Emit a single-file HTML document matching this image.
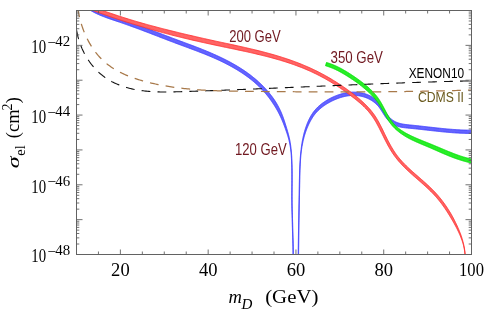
<!DOCTYPE html>
<html><head><meta charset="utf-8"><title>plot</title><style>html,body{margin:0;padding:0;background:#fff}svg{display:block;will-change:transform;-webkit-font-smoothing:antialiased}</style></head><body>
<svg width="485" height="311" viewBox="0 0 485 311">
<rect width="485" height="311" fill="#fff"/>
<defs><clipPath id="c"><rect x="76.5" y="10.5" width="395.0" height="244.0"/></clipPath></defs>
<g clip-path="url(#c)">
<path d="M80.77,3.31 L81.36,3.84 L81.96,4.37 L82.57,4.89 L83.19,5.40 L83.81,5.89 L84.44,6.38 L85.07,6.85 L85.70,7.32 L86.34,7.77 L86.99,8.22 L87.64,8.65 L88.29,9.08 L88.95,9.50 L89.61,9.90 L90.27,10.30 L90.94,10.70 L91.61,11.08 L92.29,11.45 L92.97,11.82 L93.65,12.18 L94.33,12.54 L95.02,12.88 L95.71,13.22 L96.40,13.55 L97.10,13.88 L97.80,14.20 L98.50,14.52 L99.20,14.83 L99.90,15.13 L100.61,15.43 L101.32,15.72 L102.03,16.01 L102.74,16.30 L103.45,16.58 L104.17,16.85 L104.89,17.12 L105.60,17.39 L106.32,17.66 L107.04,17.92 L107.76,18.18 L108.48,18.44 L109.20,18.69 L109.93,18.94 L110.65,19.19 L111.37,19.44 L112.10,19.69 L112.82,19.94 L113.55,20.18 L114.27,20.42 L114.99,20.67 L115.72,20.91 L116.44,21.15 L117.16,21.39 L117.89,21.63 L118.61,21.88 L119.33,22.12 L120.05,22.36 L120.77,22.61 L121.49,22.85 L122.21,23.10 L122.92,23.35 L123.64,23.60 L124.36,23.85 L125.08,24.10 L125.79,24.35 L126.51,24.60 L127.23,24.86 L127.94,25.11 L128.66,25.37 L129.38,25.62 L130.09,25.88 L130.81,26.14 L131.52,26.40 L132.24,26.66 L132.95,26.92 L133.67,27.18 L134.38,27.44 L135.09,27.70 L135.81,27.97 L136.52,28.23 L137.23,28.50 L137.95,28.76 L138.66,29.03 L139.37,29.29 L140.08,29.56 L140.80,29.83 L141.51,30.09 L142.22,30.36 L142.93,30.63 L143.64,30.90 L144.35,31.17 L145.07,31.44 L145.78,31.71 L146.49,31.98 L147.20,32.25 L147.91,32.52 L148.62,32.79 L149.33,33.06 L150.04,33.34 L150.75,33.61 L151.46,33.88 L152.17,34.16 L152.88,34.43 L153.59,34.70 L154.30,34.98 L155.01,35.25 L155.72,35.53 L156.43,35.80 L157.14,36.07 L157.84,36.35 L158.55,36.62 L159.26,36.90 L159.97,37.17 L160.68,37.44 L161.39,37.72 L162.10,37.99 L162.81,38.26 L163.52,38.54 L164.23,38.81 L164.94,39.08 L165.65,39.36 L166.36,39.63 L167.07,39.90 L167.78,40.17 L168.49,40.44 L169.19,40.72 L169.90,40.99 L170.61,41.26 L171.32,41.53 L172.03,41.80 L172.75,42.06 L173.46,42.33 L174.17,42.60 L174.88,42.87 L175.59,43.13 L176.30,43.40 L177.01,43.66 L177.72,43.93 L178.43,44.19 L179.14,44.46 L179.85,44.72 L180.56,44.98 L181.27,45.24 L181.98,45.51 L182.69,45.77 L183.40,46.03 L184.11,46.30 L184.82,46.56 L185.53,46.82 L186.24,47.08 L186.95,47.35 L187.66,47.61 L188.37,47.87 L189.08,48.14 L189.78,48.40 L190.49,48.67 L191.20,48.93 L191.91,49.20 L192.61,49.46 L193.32,49.73 L194.03,50.00 L194.73,50.27 L195.44,50.53 L196.15,50.80 L196.85,51.07 L197.56,51.33 L198.26,51.60 L198.97,51.87 L199.67,52.15 L200.38,52.42 L201.08,52.69 L201.78,52.97 L202.49,53.24 L203.19,53.52 L203.89,53.80 L204.59,54.08 L205.29,54.36 L205.99,54.64 L206.69,54.93 L207.39,55.22 L208.09,55.50 L208.79,55.79 L209.49,56.08 L210.18,56.38 L210.88,56.67 L211.57,56.97 L212.27,57.27 L212.97,57.57 L213.66,57.87 L214.35,58.17 L215.04,58.48 L215.74,58.79 L216.43,59.10 L217.12,59.42 L217.81,59.73 L218.50,60.05 L219.18,60.37 L219.87,60.69 L220.56,61.02 L221.24,61.35 L221.92,61.68 L222.61,62.01 L223.29,62.34 L223.97,62.68 L224.65,63.02 L225.32,63.36 L226.00,63.70 L226.68,64.05 L227.35,64.40 L228.02,64.75 L228.69,65.11 L229.36,65.46 L230.03,65.82 L230.69,66.19 L231.36,66.55 L232.02,66.92 L232.68,67.29 L233.34,67.66 L233.99,68.04 L234.65,68.42 L235.30,68.80 L235.95,69.19 L236.60,69.58 L237.24,69.97 L237.89,70.36 L238.53,70.76 L239.17,71.16 L239.81,71.56 L240.44,71.97 L241.08,72.37 L241.71,72.79 L242.33,73.20 L242.96,73.62 L243.58,74.04 L244.20,74.47 L244.82,74.89 L245.43,75.33 L246.05,75.76 L246.65,76.20 L247.26,76.64 L247.86,77.08 L248.47,77.53 L249.06,77.98 L249.66,78.44 L250.25,78.90 L250.84,79.36 L251.42,79.83 L252.01,80.29 L252.59,80.77 L253.16,81.24 L253.73,81.73 L254.30,82.21 L254.86,82.70 L255.43,83.19 L255.98,83.69 L256.54,84.19 L257.09,84.69 L257.63,85.20 L258.18,85.71 L258.72,86.23 L259.25,86.74 L259.78,87.27 L260.31,87.79 L260.83,88.32 L261.36,88.85 L261.87,89.39 L262.38,89.93 L262.89,90.47 L263.40,91.02 L263.89,91.57 L264.39,92.12 L264.88,92.68 L265.37,93.24 L265.85,93.81 L266.33,94.38 L266.80,94.95 L267.27,95.52 L267.74,96.10 L268.20,96.69 L268.65,97.27 L269.10,97.86 L269.55,98.45 L269.99,99.05 L270.43,99.65 L270.86,100.26 L271.29,100.86 L271.71,101.47 L272.12,102.09 L272.54,102.71 L272.94,103.33 L273.35,103.95 L273.77,104.56 L274.18,105.19 L274.58,105.81 L274.98,106.44 L275.37,107.07 L275.76,107.71 L276.14,108.35 L276.52,109.00 L276.89,109.64 L277.26,110.30 L277.62,110.95 L277.97,111.61 L278.32,112.27 L278.67,112.94 L279.01,113.61 L279.35,114.28 L279.68,114.96 L280.01,115.64 L280.34,116.32 L280.66,117.01 L280.98,117.70 L281.29,118.39 L281.60,119.09 L281.90,119.79 L282.20,120.49 L282.49,121.19 L282.79,121.90 L283.07,122.61 L283.36,123.32 L283.63,124.03 L283.91,124.75 L284.18,125.46 L284.44,126.18 L284.71,126.90 L284.97,127.62 L285.23,128.34 L285.49,129.06 L285.74,129.78 L285.99,130.50 L286.25,131.22 L286.49,131.94 L286.74,132.65 L286.98,133.37 L287.22,134.09 L287.45,134.81 L287.67,135.53 L287.90,136.25 L288.11,136.97 L288.32,137.69 L288.52,138.42 L288.71,139.14 L288.89,139.87 L289.06,140.60 L289.23,141.33 L289.40,142.06 L289.55,142.79 L289.70,143.52 L289.84,144.26 L289.98,145.00 L290.11,145.74 L290.24,146.47 L290.36,147.22 L290.47,147.96 L290.58,148.70 L290.69,149.44 L290.78,150.19 L290.86,150.94 L290.94,151.69 L291.01,152.43 L291.08,153.18 L291.14,153.94 L291.20,154.69 L291.25,155.44 L291.30,156.19 L291.35,156.94 L291.39,157.70 L291.43,158.45 L291.47,159.21 L291.51,159.96 L291.54,160.72 L291.57,161.47 L291.60,162.23 L291.62,162.99 L291.65,163.75 L291.67,164.50 L291.69,165.26 L291.71,166.02 L291.72,166.78 L291.74,167.54 L291.75,168.30 L291.76,169.06 L291.77,169.82 L291.78,170.58 L291.79,171.34 L291.80,172.10 L291.80,172.86 L291.81,173.62 L291.81,174.38 L291.81,175.14 L291.81,175.90 L291.81,176.66 L291.81,177.42 L291.81,178.18 L291.81,178.95 L291.81,179.71 L291.81,180.47 L291.80,181.23 L291.80,181.99 L291.80,182.76 L291.79,183.52 L291.79,184.28 L291.78,185.04 L291.78,185.81 L291.77,186.57 L291.77,187.33 L291.76,188.09 L291.76,188.85 L291.75,189.62 L291.75,190.38 L291.75,191.14 L291.74,191.90 L291.74,192.67 L291.74,193.43 L291.73,194.19 L291.73,194.95 L291.73,195.72 L291.73,196.48 L291.73,197.24 L291.74,198.00 L291.74,198.76 L291.74,199.52 L291.75,200.29 L291.75,201.05 L291.76,201.81 L291.77,202.57 L291.77,203.33 L291.78,204.09 L291.79,204.85 L291.81,205.61 L291.82,206.37 L291.83,207.13 L291.84,207.89 L291.86,208.65 L291.87,209.41 L291.89,210.17 L291.91,210.93 L291.93,211.69 L291.94,212.45 L291.96,213.21 L291.98,213.97 L292.00,214.72 L292.02,215.48 L292.04,216.24 L292.06,217.00 L292.08,217.76 L292.10,218.52 L292.13,219.28 L292.15,220.04 L292.17,220.79 L292.19,221.55 L292.22,222.31 L292.24,223.07 L292.26,223.83 L292.29,224.59 L292.31,225.34 L292.33,226.10 L292.36,226.86 L292.38,227.62 L292.41,228.38 L292.43,229.14 L292.45,229.89 L292.48,230.65 L292.50,231.41 L292.52,232.17 L292.54,232.93 L292.57,233.69 L292.59,234.44 L292.61,235.20 L292.63,235.96 L292.65,236.72 L292.67,237.48 L292.69,238.24 L292.71,239.00 L292.73,239.76 L292.75,240.51 L292.77,241.27 L292.79,242.03 L292.80,242.79 L292.82,243.55 L292.83,244.31 L292.85,245.07 L292.86,245.83 L292.88,246.59 L292.89,247.35 L292.90,248.11 L292.91,248.87 L292.92,249.63 L292.93,250.39 L292.94,251.15 L292.94,251.91 L292.95,252.67 L292.95,253.44 L292.96,254.20 L292.96,254.96 L292.96,255.72 L292.96,256.48 L292.96,257.24 L292.96,258.01 L293.36,258.01 L293.36,257.24 L293.36,256.48 L293.36,255.72 L293.36,254.96 L293.36,254.20 L293.35,253.43 L293.35,252.67 L293.34,251.91 L293.34,251.15 L293.33,250.39 L293.32,249.63 L293.31,248.87 L293.30,248.10 L293.29,247.34 L293.28,246.58 L293.26,245.82 L293.25,245.06 L293.23,244.30 L293.22,243.54 L293.20,242.78 L293.19,242.02 L293.17,241.26 L293.15,240.51 L293.13,239.75 L293.11,238.99 L293.09,238.23 L293.07,237.47 L293.05,236.71 L293.03,235.95 L293.01,235.19 L292.99,234.43 L292.97,233.67 L292.94,232.92 L292.92,232.16 L292.90,231.40 L292.88,230.64 L292.85,229.88 L292.83,229.12 L292.81,228.36 L292.78,227.61 L292.76,226.85 L292.73,226.09 L292.71,225.33 L292.69,224.57 L292.66,223.81 L292.64,223.06 L292.62,222.30 L292.59,221.54 L292.57,220.78 L292.55,220.02 L292.53,219.27 L292.50,218.51 L292.48,217.75 L292.46,216.99 L292.44,216.23 L292.42,215.47 L292.40,214.71 L292.38,213.96 L292.36,213.20 L292.34,212.44 L292.32,211.68 L292.31,210.92 L292.29,210.16 L292.27,209.40 L292.26,208.64 L292.24,207.88 L292.23,207.12 L292.22,206.36 L292.21,205.60 L292.19,204.84 L292.18,204.08 L292.17,203.32 L292.17,202.56 L292.16,201.80 L292.15,201.04 L292.15,200.28 L292.14,199.52 L292.14,198.76 L292.14,198.00 L292.13,197.24 L292.13,196.48 L292.13,195.72 L292.13,194.95 L292.13,194.19 L292.14,193.43 L292.14,192.67 L292.14,191.91 L292.15,191.14 L292.15,190.38 L292.15,189.62 L292.16,188.86 L292.16,188.09 L292.17,187.33 L292.17,186.57 L292.18,185.81 L292.18,185.05 L292.19,184.28 L292.19,183.52 L292.20,182.76 L292.20,182.00 L292.20,181.23 L292.21,180.47 L292.21,179.71 L292.21,178.95 L292.21,178.18 L292.21,177.42 L292.21,176.66 L292.21,175.90 L292.21,175.14 L292.21,174.38 L292.21,173.61 L292.20,172.85 L292.20,172.09 L292.19,171.33 L292.18,170.57 L292.17,169.81 L292.16,169.05 L292.15,168.29 L292.14,167.53 L292.12,166.77 L292.11,166.01 L292.09,165.25 L292.07,164.49 L292.05,163.73 L292.02,162.98 L292.00,162.22 L291.97,161.46 L291.94,160.70 L291.91,159.94 L291.87,159.19 L291.83,158.43 L291.79,157.68 L291.75,156.92 L291.70,156.16 L291.65,155.41 L291.60,154.66 L291.54,153.90 L291.47,153.15 L291.41,152.40 L291.34,151.65 L291.26,150.90 L291.18,150.15 L291.11,149.39 L291.03,148.64 L290.95,147.89 L290.87,147.15 L290.78,146.40 L290.68,145.65 L290.58,144.90 L290.47,144.15 L290.36,143.41 L290.23,142.66 L290.11,141.92 L289.97,141.17 L289.83,140.43 L289.68,139.69 L289.53,138.95 L289.37,138.21 L289.20,137.47 L289.02,136.73 L288.84,135.99 L288.65,135.25 L288.46,134.51 L288.26,133.78 L288.06,133.04 L287.85,132.31 L287.64,131.57 L287.43,130.84 L287.21,130.11 L287.00,129.37 L286.78,128.64 L286.56,127.90 L286.34,127.16 L286.11,126.43 L285.89,125.69 L285.66,124.96 L285.42,124.22 L285.19,123.48 L284.95,122.75 L284.71,122.01 L284.48,121.28 L284.23,120.54 L283.99,119.81 L283.74,119.08 L283.48,118.34 L283.22,117.61 L282.96,116.89 L282.69,116.16 L282.41,115.44 L282.13,114.71 L281.84,114.00 L281.55,113.28 L281.25,112.56 L280.94,111.85 L280.63,111.15 L280.30,110.45 L279.97,109.75 L279.63,109.05 L279.29,108.36 L278.94,107.67 L278.59,106.99 L278.23,106.31 L277.86,105.63 L277.49,104.96 L277.11,104.29 L276.73,103.62 L276.34,102.95 L275.95,102.29 L275.54,101.64 L275.12,101.00 L274.70,100.36 L274.27,99.72 L273.83,99.09 L273.39,98.46 L272.94,97.84 L272.49,97.22 L272.03,96.60 L271.57,95.99 L271.11,95.38 L270.64,94.77 L270.16,94.17 L269.68,93.57 L269.20,92.98 L268.71,92.39 L268.22,91.80 L267.72,91.22 L267.22,90.64 L266.71,90.07 L266.20,89.50 L265.68,88.93 L265.16,88.36 L264.64,87.80 L264.11,87.25 L263.58,86.70 L263.05,86.15 L262.51,85.60 L261.96,85.06 L261.41,84.52 L260.86,83.99 L260.31,83.46 L259.75,82.94 L259.19,82.41 L258.62,81.90 L258.05,81.38 L257.48,80.87 L256.90,80.36 L256.32,79.86 L255.74,79.36 L255.15,78.87 L254.57,78.37 L253.97,77.88 L253.38,77.40 L252.78,76.92 L252.18,76.44 L251.58,75.96 L250.97,75.49 L250.36,75.03 L249.75,74.56 L249.13,74.10 L248.51,73.65 L247.89,73.19 L247.27,72.75 L246.64,72.30 L246.01,71.86 L245.38,71.42 L244.75,70.98 L244.11,70.55 L243.47,70.12 L242.83,69.70 L242.18,69.27 L241.54,68.86 L240.89,68.44 L240.24,68.03 L239.59,67.62 L238.93,67.21 L238.27,66.81 L237.62,66.41 L236.95,66.01 L236.29,65.62 L235.63,65.23 L234.96,64.84 L234.29,64.45 L233.62,64.07 L232.95,63.69 L232.28,63.32 L231.60,62.94 L230.92,62.57 L230.25,62.20 L229.57,61.84 L228.89,61.48 L228.20,61.12 L227.52,60.76 L226.83,60.40 L226.15,60.05 L225.46,59.70 L224.77,59.36 L224.08,59.01 L223.39,58.67 L222.70,58.33 L222.01,58.00 L221.31,57.66 L220.62,57.33 L219.92,57.00 L219.23,56.67 L218.53,56.35 L217.83,56.02 L217.14,55.70 L216.44,55.39 L215.74,55.07 L215.04,54.76 L214.34,54.44 L213.64,54.13 L212.94,53.82 L212.24,53.52 L211.53,53.21 L210.83,52.91 L210.13,52.61 L209.43,52.31 L208.72,52.01 L208.02,51.72 L207.32,51.42 L206.61,51.13 L205.91,50.84 L205.20,50.55 L204.50,50.26 L203.79,49.98 L203.08,49.69 L202.38,49.41 L201.67,49.13 L200.97,48.84 L200.26,48.56 L199.55,48.29 L198.84,48.01 L198.14,47.73 L197.43,47.45 L196.72,47.18 L196.01,46.91 L195.30,46.63 L194.59,46.37 L193.88,46.10 L193.17,45.83 L192.46,45.56 L191.75,45.30 L191.04,45.03 L190.33,44.77 L189.62,44.50 L188.91,44.24 L188.20,43.97 L187.49,43.71 L186.78,43.45 L186.07,43.18 L185.36,42.92 L184.65,42.66 L183.94,42.39 L183.23,42.13 L182.52,41.87 L181.81,41.61 L181.10,41.34 L180.39,41.08 L179.68,40.82 L178.97,40.55 L178.26,40.29 L177.56,40.03 L176.85,39.76 L176.14,39.50 L175.43,39.23 L174.72,38.97 L174.01,38.70 L173.30,38.44 L172.59,38.17 L171.88,37.90 L171.17,37.64 L170.47,37.37 L169.76,37.10 L169.05,36.83 L168.34,36.56 L167.63,36.30 L166.92,36.03 L166.21,35.76 L165.50,35.49 L164.79,35.22 L164.08,34.95 L163.37,34.68 L162.66,34.41 L161.95,34.13 L161.24,33.86 L160.53,33.59 L159.82,33.32 L159.11,33.05 L158.40,32.78 L157.69,32.51 L156.98,32.23 L156.27,31.96 L155.56,31.69 L154.85,31.42 L154.14,31.15 L153.43,30.88 L152.72,30.61 L152.00,30.34 L151.29,30.06 L150.58,29.79 L149.87,29.52 L149.16,29.25 L148.44,28.98 L147.73,28.71 L147.02,28.44 L146.31,28.17 L145.59,27.89 L144.88,27.63 L144.17,27.36 L143.45,27.09 L142.74,26.82 L142.03,26.55 L141.31,26.28 L140.60,26.01 L139.88,25.75 L139.17,25.48 L138.45,25.21 L137.74,24.95 L137.02,24.68 L136.30,24.42 L135.59,24.16 L134.87,23.89 L134.15,23.63 L133.43,23.37 L132.72,23.11 L132.00,22.85 L131.28,22.59 L130.56,22.33 L129.84,22.07 L129.12,21.82 L128.40,21.56 L127.68,21.30 L126.96,21.05 L126.24,20.80 L125.51,20.54 L124.79,20.29 L124.07,20.04 L123.35,19.79 L122.62,19.54 L121.90,19.30 L121.17,19.05 L120.45,18.80 L119.72,18.56 L119.00,18.32 L118.27,18.07 L117.55,17.83 L116.83,17.59 L116.11,17.35 L115.38,17.10 L114.66,16.86 L113.94,16.62 L113.22,16.38 L112.51,16.13 L111.79,15.89 L111.08,15.64 L110.36,15.39 L109.65,15.14 L108.94,14.89 L108.23,14.63 L107.53,14.37 L106.82,14.11 L106.12,13.85 L105.42,13.58 L104.73,13.32 L104.03,13.04 L103.34,12.77 L102.65,12.48 L101.96,12.20 L101.28,11.91 L100.60,11.62 L99.92,11.32 L99.24,11.02 L98.57,10.71 L97.91,10.39 L97.24,10.07 L96.58,9.75 L95.92,9.42 L95.27,9.08 L94.62,8.74 L93.97,8.39 L93.33,8.03 L92.69,7.67 L92.06,7.29 L91.43,6.92 L90.81,6.53 L90.19,6.14 L89.57,5.73 L88.96,5.32 L88.35,4.90 L87.75,4.48 L87.15,4.04 L86.56,3.60 L85.97,3.14 L85.39,2.68 L84.82,2.20 L84.24,1.72 L83.68,1.22 L83.11,0.71Z" fill="#6464ff" stroke="#4040ff" stroke-width="0.9" stroke-linejoin="round"/>
<path d="M298.53,258.02 L298.54,257.36 L298.55,256.70 L298.56,256.04 L298.57,255.38 L298.58,254.72 L298.59,254.06 L298.60,253.40 L298.61,252.74 L298.62,252.08 L298.62,251.42 L298.63,250.76 L298.64,250.10 L298.65,249.44 L298.66,248.78 L298.67,248.12 L298.68,247.46 L298.69,246.80 L298.70,246.14 L298.71,245.48 L298.71,244.83 L298.72,244.17 L298.73,243.51 L298.74,242.85 L298.75,242.19 L298.76,241.54 L298.77,240.88 L298.78,240.22 L298.79,239.56 L298.80,238.90 L298.81,238.25 L298.81,237.59 L298.82,236.93 L298.83,236.27 L298.84,235.62 L298.85,234.96 L298.86,234.30 L298.87,233.65 L298.88,232.99 L298.89,232.33 L298.90,231.68 L298.91,231.02 L298.92,230.36 L298.93,229.71 L298.94,229.05 L298.94,228.39 L298.95,227.74 L298.96,227.08 L298.97,226.42 L298.98,225.77 L298.99,225.11 L299.00,224.46 L299.01,223.80 L299.02,223.14 L299.03,222.49 L299.04,221.83 L299.05,221.18 L299.06,220.52 L299.07,219.86 L299.08,219.21 L299.09,218.55 L299.10,217.90 L299.11,217.24 L299.12,216.58 L299.13,215.93 L299.14,215.27 L299.15,214.62 L299.16,213.96 L299.17,213.30 L299.18,212.65 L299.19,211.99 L299.20,211.34 L299.22,210.68 L299.23,210.02 L299.24,209.37 L299.25,208.71 L299.26,208.06 L299.27,207.40 L299.28,206.74 L299.29,206.09 L299.30,205.43 L299.31,204.78 L299.33,204.12 L299.34,203.46 L299.35,202.81 L299.36,202.15 L299.37,201.49 L299.38,200.84 L299.39,200.18 L299.41,199.52 L299.42,198.87 L299.43,198.21 L299.44,197.55 L299.45,196.90 L299.47,196.24 L299.48,195.58 L299.49,194.93 L299.50,194.27 L299.52,193.61 L299.53,192.96 L299.54,192.30 L299.55,191.64 L299.57,190.98 L299.58,190.33 L299.59,189.67 L299.61,189.01 L299.62,188.35 L299.63,187.69 L299.65,187.04 L299.66,186.38 L299.67,185.72 L299.69,185.06 L299.70,184.40 L299.71,183.74 L299.73,183.09 L299.74,182.43 L299.76,181.77 L299.77,181.11 L299.79,180.45 L299.80,179.79 L299.81,179.13 L299.83,178.47 L299.84,177.81 L299.86,177.15 L299.87,176.49 L299.89,175.83 L299.90,175.17 L299.92,174.51 L299.94,173.85 L299.95,173.19 L299.97,172.53 L299.99,171.87 L300.01,171.21 L300.03,170.55 L300.05,169.89 L300.07,169.23 L300.10,168.57 L300.12,167.91 L300.14,167.25 L300.17,166.59 L300.20,165.93 L300.23,165.28 L300.26,164.62 L300.29,163.96 L300.32,163.30 L300.36,162.64 L300.40,161.98 L300.43,161.33 L300.47,160.67 L300.52,160.01 L300.56,159.36 L300.61,158.70 L300.66,158.05 L300.71,157.39 L300.76,156.74 L300.82,156.08 L300.87,155.43 L300.93,154.77 L301.00,154.12 L301.06,153.47 L301.13,152.82 L301.20,152.17 L301.27,151.51 L301.35,150.86 L301.43,150.21 L301.52,149.57 L301.62,148.92 L301.72,148.27 L301.82,147.63 L301.93,146.98 L302.04,146.34 L302.16,145.70 L302.27,145.06 L302.40,144.42 L302.52,143.78 L302.65,143.14 L302.78,142.50 L302.92,141.86 L303.06,141.23 L303.20,140.59 L303.35,139.96 L303.50,139.33 L303.66,138.69 L303.82,138.06 L303.98,137.43 L304.16,136.81 L304.33,136.18 L304.52,135.56 L304.70,134.93 L304.89,134.31 L305.09,133.69 L305.29,133.07 L305.50,132.45 L305.71,131.84 L305.92,131.22 L306.14,130.61 L306.37,129.99 L306.60,129.38 L306.83,128.77 L307.07,128.17 L307.32,127.56 L307.57,126.95 L307.83,126.35 L308.09,125.75 L308.36,125.15 L308.64,124.55 L308.92,123.96 L309.21,123.37 L309.50,122.78 L309.80,122.20 L310.11,121.62 L310.42,121.04 L310.73,120.46 L311.05,119.89 L311.38,119.33 L311.71,118.77 L312.05,118.22 L312.39,117.67 L312.75,117.13 L313.10,116.60 L313.47,116.07 L313.84,115.55 L314.22,115.04 L314.60,114.54 L314.99,114.04 L315.39,113.56 L315.79,113.08 L316.21,112.61 L316.62,112.15 L317.05,111.69 L317.48,111.24 L317.92,110.80 L318.37,110.37 L318.82,109.94 L319.28,109.52 L319.74,109.11 L320.21,108.70 L320.68,108.29 L321.16,107.89 L321.64,107.50 L322.14,107.11 L322.63,106.73 L323.14,106.35 L323.65,105.98 L324.16,105.62 L324.68,105.26 L325.21,104.90 L325.74,104.55 L326.28,104.21 L326.83,103.87 L327.38,103.54 L327.93,103.21 L328.49,102.89 L329.06,102.57 L329.63,102.26 L330.20,101.95 L330.78,101.64 L331.36,101.34 L331.95,101.05 L332.54,100.77 L333.13,100.48 L333.72,100.20 L334.32,99.93 L334.93,99.67 L335.53,99.41 L336.14,99.16 L336.75,98.91 L337.37,98.68 L337.98,98.45 L338.60,98.22 L339.23,98.01 L339.85,97.80 L340.48,97.60 L341.10,97.41 L341.73,97.23 L342.36,97.05 L342.99,96.89 L343.62,96.73 L344.26,96.57 L344.89,96.43 L345.53,96.30 L346.16,96.17 L346.79,96.06 L347.43,95.95 L348.07,95.85 L348.70,95.76 L349.34,95.69 L349.97,95.62 L350.60,95.56 L351.24,95.52 L351.87,95.48 L352.50,95.45 L353.13,95.44 L353.76,95.43 L354.39,95.44 L355.01,95.46 L355.64,95.49 L356.26,95.53 L356.88,95.59 L357.50,95.65 L358.11,95.72 L358.73,95.81 L359.34,95.90 L359.95,96.01 L360.55,96.13 L361.15,96.25 L361.75,96.39 L362.35,96.54 L362.94,96.70 L363.52,96.87 L364.11,97.05 L364.69,97.25 L365.26,97.45 L365.83,97.66 L366.40,97.88 L366.96,98.11 L367.51,98.35 L368.07,98.60 L368.62,98.86 L369.16,99.12 L369.70,99.40 L370.23,99.69 L370.76,99.99 L371.28,100.30 L371.79,100.62 L372.30,100.95 L372.80,101.29 L373.30,101.65 L373.79,102.01 L374.27,102.38 L374.75,102.77 L375.22,103.16 L375.68,103.57 L376.14,103.98 L376.58,104.41 L377.02,104.85 L377.45,105.30 L377.87,105.76 L378.29,106.23 L378.69,106.72 L379.09,107.21 L379.47,107.73 L379.85,108.25 L380.22,108.79 L380.59,109.33 L380.96,109.89 L381.32,110.45 L381.68,111.02 L382.04,111.59 L382.40,112.17 L382.77,112.74 L383.13,113.32 L383.48,113.91 L383.85,114.49 L384.21,115.07 L384.59,115.65 L384.97,116.23 L385.36,116.79 L385.76,117.36 L386.17,117.91 L386.59,118.45 L387.02,118.98 L387.47,119.51 L387.92,120.02 L388.38,120.52 L388.86,121.01 L389.35,121.48 L389.85,121.93 L390.37,122.37 L390.90,122.79 L391.44,123.19 L391.99,123.58 L392.56,123.94 L393.14,124.29 L393.73,124.63 L394.33,124.94 L394.94,125.24 L395.56,125.53 L396.19,125.79 L396.82,126.04 L397.47,126.26 L398.13,126.47 L398.79,126.66 L399.46,126.83 L400.13,126.99 L400.80,127.13 L401.48,127.27 L402.16,127.39 L402.84,127.50 L403.52,127.60 L404.21,127.70 L404.89,127.78 L405.58,127.86 L406.26,127.93 L406.94,128.00 L407.62,128.07 L408.30,128.13 L408.98,128.20 L409.66,128.26 L410.33,128.32 L411.00,128.39 L411.67,128.45 L412.33,128.52 L413.00,128.59 L413.66,128.66 L414.33,128.73 L414.99,128.80 L415.65,128.87 L416.31,128.94 L416.97,129.01 L417.63,129.08 L418.29,129.15 L418.94,129.23 L419.60,129.30 L420.25,129.37 L420.91,129.44 L421.56,129.52 L422.21,129.59 L422.87,129.66 L423.52,129.74 L424.17,129.81 L424.82,129.88 L425.47,129.96 L426.12,130.03 L426.77,130.10 L427.42,130.18 L428.07,130.25 L428.71,130.32 L429.36,130.40 L430.01,130.47 L430.66,130.54 L431.30,130.62 L431.95,130.69 L432.60,130.76 L433.25,130.83 L433.90,130.90 L434.54,130.98 L435.19,131.05 L435.84,131.12 L436.49,131.19 L437.14,131.26 L437.79,131.33 L438.43,131.40 L439.08,131.46 L439.73,131.53 L440.39,131.60 L441.04,131.67 L441.69,131.73 L442.34,131.80 L442.99,131.86 L443.65,131.93 L444.30,131.99 L444.96,132.05 L445.61,132.11 L446.27,132.17 L446.92,132.23 L447.58,132.29 L448.24,132.35 L448.89,132.41 L449.55,132.46 L450.21,132.52 L450.87,132.57 L451.53,132.62 L452.19,132.68 L452.85,132.73 L453.51,132.77 L454.17,132.82 L454.83,132.87 L455.49,132.91 L456.15,132.96 L456.81,133.00 L457.47,133.04 L458.14,133.08 L458.80,133.11 L459.46,133.15 L460.12,133.18 L460.79,133.21 L461.45,133.24 L462.11,133.27 L462.78,133.30 L463.44,133.32 L464.10,133.34 L464.77,133.37 L465.43,133.38 L466.10,133.40 L466.76,133.42 L467.42,133.43 L468.09,133.44 L468.75,133.45 L469.42,133.45 L470.08,133.46 L470.74,133.46 L471.41,133.46 L472.07,133.45 L472.73,133.45 L473.40,133.44 L474.06,133.43 L474.72,133.42 L475.39,133.40 L476.05,133.38 L475.96,130.08 L475.30,130.10 L474.65,130.12 L474.00,130.13 L473.35,130.14 L472.70,130.15 L472.05,130.15 L471.40,130.16 L470.74,130.16 L470.09,130.16 L469.44,130.15 L468.79,130.15 L468.13,130.14 L467.48,130.13 L466.83,130.12 L466.17,130.10 L465.52,130.09 L464.87,130.07 L464.21,130.05 L463.56,130.02 L462.90,130.00 L462.25,129.97 L461.60,129.95 L460.94,129.92 L460.29,129.88 L459.63,129.85 L458.98,129.82 L458.32,129.78 L457.67,129.74 L457.02,129.70 L456.36,129.66 L455.71,129.62 L455.05,129.58 L454.40,129.53 L453.75,129.48 L453.09,129.43 L452.44,129.39 L451.79,129.33 L451.13,129.28 L450.48,129.23 L449.83,129.18 L449.17,129.12 L448.52,129.06 L447.87,129.01 L447.22,128.95 L446.57,128.89 L445.92,128.83 L445.27,128.77 L444.62,128.70 L443.97,128.64 L443.32,128.58 L442.67,128.51 L442.02,128.45 L441.37,128.38 L440.72,128.32 L440.08,128.25 L439.43,128.18 L438.78,128.11 L438.14,128.05 L437.49,127.98 L436.84,127.91 L436.20,127.84 L435.55,127.77 L434.90,127.70 L434.26,127.62 L433.61,127.55 L432.97,127.48 L432.32,127.41 L431.67,127.34 L431.03,127.26 L430.38,127.19 L429.73,127.12 L429.08,127.04 L428.44,126.97 L427.79,126.90 L427.14,126.82 L426.49,126.75 L425.84,126.68 L425.19,126.60 L424.54,126.53 L423.89,126.46 L423.23,126.38 L422.58,126.31 L421.93,126.24 L421.27,126.16 L420.62,126.09 L419.96,126.02 L419.30,125.94 L418.65,125.87 L417.99,125.80 L417.33,125.73 L416.66,125.66 L416.00,125.59 L415.34,125.52 L414.67,125.45 L414.01,125.38 L413.34,125.31 L412.67,125.24 L412.00,125.17 L411.33,125.10 L410.65,125.04 L409.98,124.97 L409.31,124.90 L408.63,124.83 L407.96,124.76 L407.30,124.68 L406.63,124.61 L405.97,124.53 L405.31,124.44 L404.66,124.35 L404.02,124.25 L403.38,124.15 L402.74,124.04 L402.11,123.93 L401.49,123.81 L400.88,123.67 L400.28,123.53 L399.69,123.37 L399.10,123.21 L398.53,123.03 L397.96,122.84 L397.41,122.64 L396.86,122.43 L396.32,122.21 L395.79,121.97 L395.26,121.71 L394.75,121.44 L394.24,121.16 L393.75,120.86 L393.26,120.55 L392.78,120.22 L392.30,119.89 L391.83,119.54 L391.37,119.17 L390.92,118.79 L390.48,118.40 L390.05,117.98 L389.63,117.56 L389.23,117.11 L388.83,116.64 L388.45,116.16 L388.07,115.66 L387.69,115.14 L387.32,114.62 L386.95,114.08 L386.59,113.54 L386.23,112.98 L385.87,112.42 L385.51,111.85 L385.15,111.27 L384.80,110.69 L384.45,110.10 L384.09,109.52 L383.72,108.93 L383.36,108.34 L382.98,107.76 L382.60,107.18 L382.21,106.60 L381.81,106.03 L381.40,105.47 L380.98,104.91 L380.56,104.36 L380.12,103.83 L379.67,103.30 L379.22,102.79 L378.75,102.28 L378.27,101.79 L377.79,101.31 L377.29,100.84 L376.79,100.38 L376.28,99.94 L375.76,99.50 L375.23,99.08 L374.69,98.68 L374.14,98.28 L373.59,97.90 L373.03,97.52 L372.46,97.16 L371.88,96.81 L371.30,96.48 L370.71,96.15 L370.12,95.84 L369.51,95.54 L368.91,95.25 L368.29,94.98 L367.67,94.72 L367.04,94.48 L366.41,94.24 L365.77,94.02 L365.13,93.82 L364.49,93.62 L363.84,93.44 L363.19,93.27 L362.53,93.11 L361.87,92.96 L361.21,92.83 L360.54,92.71 L359.87,92.59 L359.20,92.50 L358.53,92.41 L357.85,92.33 L357.17,92.27 L356.49,92.22 L355.81,92.18 L355.13,92.15 L354.45,92.14 L353.76,92.13 L353.08,92.14 L352.39,92.15 L351.71,92.18 L351.02,92.22 L350.33,92.27 L349.65,92.34 L348.96,92.41 L348.28,92.49 L347.59,92.59 L346.91,92.69 L346.23,92.80 L345.55,92.93 L344.86,93.06 L344.19,93.21 L343.51,93.36 L342.83,93.52 L342.16,93.69 L341.49,93.87 L340.82,94.07 L340.15,94.27 L339.48,94.48 L338.82,94.69 L338.16,94.92 L337.51,95.15 L336.85,95.39 L336.20,95.64 L335.55,95.90 L334.91,96.16 L334.27,96.43 L333.63,96.71 L333.00,97.00 L332.37,97.29 L331.74,97.59 L331.12,97.89 L330.51,98.20 L329.90,98.53 L329.29,98.85 L328.69,99.18 L328.09,99.52 L327.50,99.86 L326.92,100.21 L326.34,100.57 L325.76,100.93 L325.20,101.29 L324.63,101.67 L324.07,102.04 L323.52,102.43 L322.97,102.81 L322.43,103.21 L321.90,103.61 L321.37,104.02 L320.84,104.43 L320.33,104.85 L319.82,105.28 L319.31,105.71 L318.81,106.15 L318.32,106.60 L317.84,107.05 L317.37,107.52 L316.90,107.99 L316.44,108.47 L316.00,108.96 L315.55,109.45 L315.12,109.96 L314.69,110.47 L314.27,110.98 L313.86,111.51 L313.46,112.04 L313.06,112.58 L312.68,113.13 L312.30,113.69 L311.93,114.25 L311.57,114.82 L311.22,115.39 L310.88,115.97 L310.54,116.56 L310.21,117.15 L309.89,117.74 L309.58,118.34 L309.27,118.95 L308.97,119.55 L308.68,120.16 L308.40,120.78 L308.12,121.40 L307.86,122.02 L307.60,122.64 L307.35,123.27 L307.10,123.90 L306.86,124.52 L306.62,125.15 L306.39,125.78 L306.16,126.41 L305.94,127.04 L305.72,127.67 L305.51,128.30 L305.31,128.93 L305.11,129.56 L304.91,130.20 L304.72,130.83 L304.54,131.47 L304.36,132.10 L304.18,132.74 L304.01,133.38 L303.85,134.02 L303.69,134.66 L303.54,135.30 L303.39,135.94 L303.24,136.58 L303.10,137.22 L302.96,137.86 L302.82,138.50 L302.69,139.15 L302.56,139.79 L302.44,140.43 L302.32,141.08 L302.21,141.72 L302.09,142.37 L301.99,143.02 L301.88,143.66 L301.78,144.31 L301.68,144.96 L301.59,145.61 L301.50,146.26 L301.42,146.91 L301.33,147.56 L301.25,148.21 L301.18,148.86 L301.11,149.51 L301.03,150.17 L300.95,150.82 L300.88,151.47 L300.80,152.12 L300.73,152.77 L300.66,153.43 L300.60,154.08 L300.53,154.74 L300.47,155.39 L300.42,156.05 L300.36,156.70 L300.31,157.36 L300.26,158.01 L300.21,158.67 L300.16,159.33 L300.12,159.99 L300.08,160.64 L300.03,161.30 L300.00,161.96 L299.96,162.62 L299.92,163.28 L299.89,163.94 L299.86,164.60 L299.83,165.26 L299.80,165.92 L299.77,166.58 L299.75,167.24 L299.72,167.90 L299.70,168.56 L299.67,169.22 L299.65,169.88 L299.63,170.54 L299.61,171.20 L299.59,171.86 L299.57,172.52 L299.55,173.18 L299.54,173.84 L299.52,174.50 L299.51,175.16 L299.49,175.82 L299.47,176.48 L299.46,177.14 L299.44,177.80 L299.43,178.46 L299.41,179.12 L299.40,179.78 L299.39,180.44 L299.37,181.10 L299.36,181.76 L299.34,182.42 L299.33,183.08 L299.31,183.74 L299.30,184.39 L299.29,185.05 L299.27,185.71 L299.26,186.37 L299.25,187.03 L299.23,187.69 L299.22,188.34 L299.21,189.00 L299.19,189.66 L299.18,190.32 L299.17,190.98 L299.15,191.63 L299.14,192.29 L299.13,192.95 L299.12,193.61 L299.10,194.26 L299.09,194.92 L299.08,195.58 L299.07,196.23 L299.05,196.89 L299.04,197.55 L299.03,198.20 L299.02,198.86 L299.01,199.52 L298.99,200.17 L298.98,200.83 L298.97,201.49 L298.96,202.14 L298.95,202.80 L298.94,203.46 L298.93,204.11 L298.91,204.77 L298.90,205.43 L298.89,206.08 L298.88,206.74 L298.87,207.39 L298.86,208.05 L298.85,208.71 L298.84,209.36 L298.83,210.02 L298.82,210.67 L298.80,211.33 L298.79,211.99 L298.78,212.64 L298.77,213.30 L298.76,213.95 L298.75,214.61 L298.74,215.27 L298.73,215.92 L298.72,216.58 L298.71,217.23 L298.70,217.89 L298.69,218.55 L298.68,219.20 L298.67,219.86 L298.66,220.51 L298.65,221.17 L298.64,221.83 L298.63,222.48 L298.62,223.14 L298.61,223.79 L298.60,224.45 L298.59,225.11 L298.58,225.76 L298.57,226.42 L298.56,227.07 L298.55,227.73 L298.54,228.39 L298.54,229.04 L298.53,229.70 L298.52,230.36 L298.51,231.01 L298.50,231.67 L298.49,232.33 L298.48,232.98 L298.47,233.64 L298.46,234.30 L298.45,234.95 L298.44,235.61 L298.43,236.27 L298.42,236.93 L298.41,237.58 L298.41,238.24 L298.40,238.90 L298.39,239.56 L298.38,240.21 L298.37,240.87 L298.36,241.53 L298.35,242.19 L298.34,242.85 L298.33,243.50 L298.32,244.16 L298.31,244.82 L298.31,245.48 L298.30,246.14 L298.29,246.80 L298.28,247.45 L298.27,248.11 L298.26,248.77 L298.25,249.43 L298.24,250.09 L298.23,250.75 L298.22,251.41 L298.22,252.07 L298.21,252.73 L298.20,253.39 L298.19,254.05 L298.18,254.71 L298.17,255.37 L298.16,256.03 L298.15,256.69 L298.14,257.35 L298.13,258.01Z" fill="#6464ff" stroke="#4040ff" stroke-width="0.9" stroke-linejoin="round"/>
<path d="M325.59,65.79 L325.95,65.89 L326.30,65.99 L326.65,66.10 L327.00,66.20 L327.34,66.31 L327.69,66.42 L328.03,66.54 L328.38,66.65 L328.72,66.77 L329.06,66.89 L329.40,67.01 L329.74,67.13 L330.08,67.26 L330.42,67.38 L330.76,67.51 L331.10,67.64 L331.43,67.77 L331.77,67.91 L332.10,68.05 L332.44,68.18 L332.77,68.32 L333.10,68.46 L333.43,68.61 L333.77,68.75 L334.10,68.90 L334.43,69.05 L334.75,69.20 L335.08,69.35 L335.41,69.50 L335.74,69.66 L336.07,69.81 L336.39,69.97 L336.72,70.13 L337.04,70.29 L337.37,70.45 L337.69,70.62 L338.01,70.78 L338.34,70.95 L338.66,71.12 L338.98,71.28 L339.30,71.46 L339.62,71.63 L339.94,71.80 L340.26,71.98 L340.58,72.15 L340.90,72.33 L341.22,72.51 L341.54,72.69 L341.86,72.87 L342.17,73.05 L342.49,73.23 L342.81,73.42 L343.12,73.60 L343.44,73.79 L343.76,73.97 L344.07,74.16 L344.39,74.35 L344.70,74.54 L345.02,74.73 L345.33,74.93 L345.65,75.12 L345.96,75.31 L346.28,75.51 L346.59,75.70 L346.90,75.90 L347.22,76.10 L347.53,76.30 L347.84,76.49 L348.16,76.69 L348.47,76.90 L348.78,77.10 L349.10,77.30 L349.41,77.50 L349.72,77.70 L350.04,77.90 L350.35,78.10 L350.66,78.31 L350.97,78.51 L351.28,78.72 L351.60,78.92 L351.91,79.13 L352.22,79.33 L352.53,79.54 L352.84,79.75 L353.15,79.96 L353.46,80.16 L353.77,80.37 L354.07,80.58 L354.38,80.79 L354.69,81.01 L355.00,81.22 L355.30,81.43 L355.61,81.64 L355.91,81.86 L356.22,82.07 L356.52,82.29 L356.82,82.51 L357.13,82.72 L357.43,82.94 L357.73,83.16 L358.03,83.38 L358.33,83.60 L358.63,83.83 L358.92,84.05 L359.22,84.27 L359.51,84.50 L359.81,84.73 L360.10,84.95 L360.39,85.18 L360.69,85.41 L360.98,85.64 L361.27,85.87 L361.56,86.10 L361.85,86.33 L362.13,86.56 L362.42,86.80 L362.71,87.03 L362.99,87.27 L363.27,87.50 L363.56,87.74 L363.84,87.97 L364.12,88.21 L364.40,88.45 L364.68,88.69 L364.96,88.93 L365.23,89.17 L365.51,89.41 L365.78,89.66 L366.06,89.90 L366.33,90.14 L366.61,90.38 L366.88,90.62 L367.16,90.86 L367.43,91.11 L367.70,91.35 L367.97,91.60 L368.24,91.84 L368.51,92.09 L368.77,92.34 L369.04,92.59 L369.30,92.84 L369.56,93.09 L369.82,93.34 L370.08,93.59 L370.34,93.85 L370.60,94.10 L370.85,94.36 L371.10,94.62 L371.36,94.87 L371.61,95.13 L371.86,95.39 L372.11,95.65 L372.36,95.92 L372.60,96.18 L372.85,96.44 L373.09,96.71 L373.34,96.98 L373.58,97.25 L373.82,97.52 L374.05,97.79 L374.29,98.06 L374.52,98.33 L374.76,98.61 L374.99,98.88 L375.23,99.16 L375.46,99.43 L375.69,99.71 L375.92,99.99 L376.15,100.27 L376.38,100.55 L376.60,100.83 L376.83,101.12 L377.05,101.40 L377.27,101.69 L377.49,101.98 L377.70,102.27 L377.92,102.57 L378.13,102.87 L378.33,103.17 L378.54,103.47 L378.74,103.77 L378.94,104.08 L379.14,104.39 L379.34,104.70 L379.53,105.01 L379.73,105.32 L379.93,105.64 L380.12,105.95 L380.31,106.27 L380.50,106.59 L380.70,106.91 L380.89,107.23 L381.08,107.55 L381.26,107.87 L381.45,108.20 L381.64,108.52 L381.83,108.85 L382.01,109.17 L382.20,109.50 L382.39,109.83 L382.57,110.15 L382.76,110.48 L382.94,110.81 L383.13,111.14 L383.31,111.47 L383.50,111.80 L383.68,112.13 L383.87,112.46 L384.05,112.79 L384.24,113.12 L384.41,113.45 L384.59,113.78 L384.77,114.12 L384.95,114.45 L385.12,114.78 L385.30,115.12 L385.48,115.45 L385.67,115.78 L385.85,116.11 L386.03,116.44 L386.21,116.77 L386.40,117.10 L386.59,117.42 L386.77,117.75 L386.96,118.08 L387.15,118.40 L387.34,118.72 L387.54,119.05 L387.73,119.37 L387.93,119.69 L388.13,120.01 L388.33,120.32 L388.53,120.64 L388.73,120.95 L388.94,121.26 L389.15,121.57 L389.36,121.88 L389.57,122.19 L389.79,122.49 L390.00,122.80 L390.22,123.10 L390.45,123.40 L390.67,123.69 L390.90,123.99 L391.13,124.28 L391.36,124.57 L391.59,124.86 L391.83,125.15 L392.07,125.44 L392.31,125.72 L392.55,126.00 L392.79,126.27 L393.04,126.55 L393.29,126.82 L393.55,127.09 L393.80,127.36 L394.06,127.62 L394.32,127.89 L394.58,128.15 L394.84,128.41 L395.11,128.66 L395.38,128.92 L395.65,129.17 L395.92,129.42 L396.19,129.66 L396.47,129.91 L396.75,130.15 L397.03,130.39 L397.31,130.63 L397.59,130.87 L397.88,131.11 L398.16,131.35 L398.45,131.58 L398.74,131.81 L399.03,132.04 L399.33,132.27 L399.62,132.49 L399.92,132.72 L400.22,132.94 L400.52,133.16 L400.82,133.38 L401.12,133.60 L401.43,133.81 L401.73,134.02 L402.04,134.24 L402.35,134.45 L402.66,134.65 L402.98,134.86 L403.29,135.07 L403.61,135.27 L403.92,135.47 L404.24,135.67 L404.56,135.87 L404.88,136.07 L405.20,136.26 L405.53,136.46 L405.85,136.65 L406.17,136.84 L406.50,137.04 L406.83,137.22 L407.16,137.41 L407.49,137.60 L407.82,137.78 L408.15,137.97 L408.48,138.15 L408.82,138.33 L409.15,138.51 L409.49,138.69 L409.83,138.86 L410.17,139.03 L410.51,139.20 L410.85,139.37 L411.19,139.54 L411.54,139.71 L411.88,139.88 L412.22,140.05 L412.57,140.21 L412.91,140.38 L413.26,140.54 L413.61,140.70 L413.95,140.86 L414.30,141.02 L414.65,141.18 L415.00,141.34 L415.35,141.50 L415.70,141.66 L416.05,141.82 L416.40,141.97 L416.75,142.13 L417.10,142.28 L417.45,142.44 L417.80,142.59 L418.15,142.75 L418.50,142.90 L418.85,143.05 L419.21,143.20 L419.56,143.36 L419.91,143.51 L420.26,143.66 L420.62,143.81 L420.97,143.96 L421.32,144.11 L421.67,144.26 L422.03,144.40 L422.38,144.55 L422.73,144.70 L423.08,144.85 L423.43,145.00 L423.79,145.14 L424.14,145.29 L424.49,145.44 L424.84,145.59 L425.19,145.73 L425.54,145.88 L425.89,146.03 L426.24,146.17 L426.59,146.32 L426.94,146.47 L427.29,146.61 L427.64,146.76 L427.98,146.91 L428.33,147.06 L428.68,147.20 L429.02,147.35 L429.37,147.50 L429.72,147.65 L430.06,147.79 L430.40,147.94 L430.75,148.09 L431.09,148.24 L431.44,148.39 L431.78,148.54 L432.12,148.69 L432.47,148.84 L432.81,148.99 L433.15,149.14 L433.49,149.29 L433.83,149.44 L434.17,149.59 L434.52,149.74 L434.86,149.89 L435.20,150.04 L435.54,150.19 L435.88,150.34 L436.22,150.49 L436.56,150.64 L436.90,150.79 L437.24,150.94 L437.58,151.09 L437.92,151.24 L438.26,151.39 L438.60,151.54 L438.94,151.69 L439.28,151.84 L439.62,151.99 L439.96,152.14 L440.30,152.29 L440.63,152.43 L440.97,152.58 L441.31,152.73 L441.65,152.88 L441.99,153.02 L442.33,153.17 L442.67,153.32 L443.01,153.46 L443.35,153.61 L443.69,153.76 L444.04,153.90 L444.38,154.05 L444.72,154.19 L445.06,154.34 L445.40,154.48 L445.74,154.63 L446.08,154.77 L446.42,154.91 L446.76,155.06 L447.10,155.20 L447.45,155.34 L447.79,155.48 L448.13,155.62 L448.47,155.76 L448.82,155.90 L449.16,156.04 L449.50,156.18 L449.85,156.32 L450.19,156.45 L450.54,156.59 L450.89,156.72 L451.23,156.85 L451.58,156.99 L451.93,157.12 L452.27,157.25 L452.62,157.38 L452.97,157.51 L453.32,157.64 L453.67,157.77 L454.01,157.90 L454.36,158.02 L454.71,158.15 L455.07,158.28 L455.42,158.40 L455.77,158.52 L456.12,158.65 L456.47,158.77 L456.82,158.89 L457.18,159.01 L457.53,159.13 L457.89,159.25 L458.24,159.37 L458.60,159.49 L458.95,159.60 L459.31,159.72 L459.67,159.84 L460.02,159.95 L460.38,160.07 L460.74,160.18 L461.10,160.29 L461.46,160.40 L461.82,160.52 L462.18,160.63 L462.54,160.73 L462.90,160.84 L463.27,160.95 L463.63,161.05 L463.99,161.16 L464.36,161.26 L464.72,161.36 L465.09,161.46 L465.46,161.56 L465.83,161.66 L466.20,161.76 L466.57,161.86 L466.94,161.95 L467.31,162.04 L467.68,162.14 L468.05,162.23 L468.43,162.32 L468.80,162.41 L469.18,162.49 L469.55,162.58 L469.93,162.66 L470.31,162.75 L470.69,162.83 L471.07,162.91 L471.45,162.99 L471.83,163.07 L472.21,163.14 L472.59,163.22 L472.98,163.29 L473.36,163.37 L473.75,163.44 L474.14,163.51 L474.52,163.57 L474.91,163.64 L475.30,163.70 L475.70,163.77 L476.09,163.83 L476.48,163.89 L476.87,163.95 L477.44,160.09 L477.06,160.03 L476.68,159.97 L476.31,159.92 L475.93,159.85 L475.56,159.79 L475.19,159.73 L474.81,159.66 L474.44,159.60 L474.07,159.53 L473.70,159.46 L473.33,159.39 L472.97,159.32 L472.60,159.25 L472.23,159.17 L471.87,159.09 L471.50,159.02 L471.14,158.94 L470.78,158.86 L470.41,158.78 L470.05,158.69 L469.69,158.61 L469.33,158.52 L468.97,158.44 L468.61,158.35 L468.25,158.26 L467.90,158.17 L467.54,158.08 L467.18,157.99 L466.83,157.89 L466.47,157.80 L466.12,157.70 L465.77,157.60 L465.41,157.51 L465.06,157.41 L464.71,157.31 L464.36,157.20 L464.01,157.10 L463.66,157.00 L463.31,156.89 L462.96,156.79 L462.61,156.68 L462.26,156.57 L461.91,156.46 L461.56,156.35 L461.22,156.24 L460.87,156.13 L460.53,156.01 L460.18,155.90 L459.84,155.78 L459.49,155.67 L459.15,155.55 L458.80,155.43 L458.46,155.31 L458.12,155.19 L457.78,155.06 L457.43,154.94 L457.09,154.82 L456.75,154.69 L456.41,154.57 L456.07,154.44 L455.73,154.32 L455.39,154.19 L455.05,154.06 L454.71,153.93 L454.37,153.80 L454.03,153.67 L453.69,153.54 L453.35,153.41 L453.01,153.28 L452.67,153.14 L452.34,153.01 L452.00,152.87 L451.66,152.74 L451.32,152.60 L450.98,152.47 L450.65,152.33 L450.31,152.20 L449.97,152.07 L449.63,151.93 L449.29,151.79 L448.95,151.66 L448.61,151.52 L448.28,151.38 L447.94,151.25 L447.60,151.11 L447.26,150.97 L446.92,150.83 L446.58,150.69 L446.25,150.55 L445.91,150.41 L445.57,150.27 L445.23,150.13 L444.89,149.99 L444.55,149.84 L444.21,149.70 L443.87,149.56 L443.54,149.42 L443.20,149.27 L442.86,149.13 L442.52,148.99 L442.18,148.84 L441.84,148.70 L441.50,148.55 L441.16,148.41 L440.82,148.27 L440.48,148.12 L440.13,147.98 L439.79,147.84 L439.45,147.69 L439.11,147.55 L438.77,147.40 L438.42,147.26 L438.08,147.11 L437.74,146.97 L437.39,146.82 L437.05,146.68 L436.71,146.54 L436.36,146.39 L436.02,146.25 L435.67,146.10 L435.33,145.96 L434.98,145.81 L434.63,145.67 L434.29,145.52 L433.94,145.38 L433.59,145.23 L433.24,145.09 L432.90,144.94 L432.55,144.80 L432.20,144.66 L431.85,144.51 L431.50,144.37 L431.15,144.22 L430.80,144.08 L430.45,143.94 L430.09,143.80 L429.74,143.65 L429.39,143.51 L429.04,143.37 L428.68,143.23 L428.33,143.09 L427.98,142.94 L427.62,142.80 L427.27,142.66 L426.92,142.52 L426.56,142.38 L426.21,142.24 L425.85,142.10 L425.50,141.96 L425.15,141.82 L424.79,141.68 L424.44,141.53 L424.09,141.39 L423.73,141.25 L423.38,141.11 L423.03,140.97 L422.68,140.83 L422.32,140.69 L421.97,140.54 L421.62,140.40 L421.27,140.26 L420.92,140.11 L420.57,139.97 L420.21,139.83 L419.86,139.68 L419.51,139.54 L419.17,139.39 L418.82,139.25 L418.47,139.10 L418.12,138.96 L417.77,138.81 L417.43,138.66 L417.08,138.51 L416.73,138.37 L416.39,138.22 L416.05,138.07 L415.70,137.92 L415.36,137.76 L415.02,137.61 L414.68,137.46 L414.34,137.31 L414.00,137.15 L413.66,137.00 L413.32,136.84 L412.98,136.69 L412.64,136.53 L412.31,136.37 L411.97,136.21 L411.64,136.05 L411.31,135.89 L410.98,135.73 L410.65,135.57 L410.32,135.41 L409.98,135.25 L409.66,135.09 L409.33,134.92 L409.00,134.76 L408.67,134.60 L408.35,134.43 L408.02,134.26 L407.70,134.10 L407.38,133.93 L407.06,133.76 L406.74,133.59 L406.42,133.41 L406.10,133.24 L405.79,133.06 L405.48,132.89 L405.16,132.71 L404.85,132.53 L404.54,132.35 L404.23,132.16 L403.93,131.98 L403.62,131.79 L403.32,131.61 L403.02,131.42 L402.72,131.23 L402.42,131.04 L402.12,130.84 L401.82,130.65 L401.53,130.45 L401.24,130.25 L400.95,130.05 L400.66,129.85 L400.37,129.65 L400.08,129.44 L399.80,129.24 L399.52,129.03 L399.24,128.82 L398.96,128.60 L398.68,128.39 L398.41,128.17 L398.14,127.95 L397.87,127.73 L397.60,127.50 L397.33,127.28 L397.07,127.05 L396.81,126.82 L396.55,126.58 L396.29,126.35 L396.04,126.11 L395.79,125.87 L395.53,125.63 L395.29,125.39 L395.04,125.14 L394.80,124.90 L394.55,124.65 L394.31,124.39 L394.08,124.14 L393.84,123.88 L393.61,123.62 L393.38,123.36 L393.15,123.10 L392.92,122.83 L392.70,122.56 L392.48,122.29 L392.26,122.01 L392.05,121.73 L391.84,121.45 L391.63,121.17 L391.42,120.88 L391.21,120.59 L391.00,120.30 L390.80,120.00 L390.60,119.71 L390.40,119.41 L390.20,119.11 L390.00,118.81 L389.80,118.51 L389.61,118.20 L389.42,117.89 L389.22,117.58 L389.03,117.27 L388.84,116.96 L388.65,116.65 L388.47,116.33 L388.28,116.01 L388.09,115.69 L387.91,115.37 L387.72,115.05 L387.54,114.73 L387.36,114.41 L387.17,114.08 L386.99,113.76 L386.81,113.43 L386.63,113.11 L386.45,112.78 L386.27,112.45 L386.09,112.12 L385.91,111.79 L385.74,111.45 L385.57,111.11 L385.40,110.78 L385.23,110.44 L385.06,110.11 L384.88,109.77 L384.71,109.43 L384.54,109.09 L384.37,108.76 L384.19,108.42 L384.02,108.08 L383.84,107.75 L383.67,107.41 L383.49,107.07 L383.31,106.74 L383.13,106.40 L382.95,106.06 L382.77,105.73 L382.59,105.39 L382.41,105.06 L382.22,104.73 L382.04,104.39 L381.85,104.06 L381.66,103.73 L381.47,103.40 L381.28,103.07 L381.08,102.75 L380.89,102.42 L380.69,102.09 L380.49,101.77 L380.29,101.44 L380.08,101.12 L379.88,100.80 L379.68,100.47 L379.47,100.15 L379.27,99.83 L379.06,99.52 L378.85,99.20 L378.64,98.88 L378.42,98.57 L378.21,98.26 L377.99,97.95 L377.77,97.64 L377.55,97.33 L377.32,97.03 L377.09,96.72 L376.86,96.42 L376.63,96.13 L376.39,95.83 L376.15,95.54 L375.91,95.25 L375.67,94.95 L375.43,94.66 L375.19,94.38 L374.94,94.09 L374.69,93.80 L374.44,93.52 L374.19,93.24 L373.94,92.95 L373.69,92.68 L373.43,92.40 L373.17,92.12 L372.91,91.85 L372.65,91.57 L372.39,91.30 L372.13,91.03 L371.86,90.76 L371.60,90.49 L371.33,90.22 L371.06,89.96 L370.79,89.69 L370.52,89.43 L370.25,89.17 L369.97,88.90 L369.70,88.64 L369.42,88.38 L369.15,88.13 L368.87,87.87 L368.59,87.61 L368.31,87.36 L368.03,87.11 L367.74,86.86 L367.45,86.61 L367.16,86.36 L366.88,86.12 L366.58,85.87 L366.29,85.63 L366.00,85.39 L365.71,85.15 L365.41,84.90 L365.12,84.66 L364.82,84.43 L364.53,84.19 L364.23,83.95 L363.93,83.71 L363.63,83.48 L363.33,83.24 L363.03,83.01 L362.73,82.78 L362.43,82.55 L362.13,82.32 L361.82,82.09 L361.52,81.86 L361.22,81.63 L360.91,81.40 L360.60,81.17 L360.30,80.95 L359.99,80.72 L359.68,80.50 L359.38,80.27 L359.07,80.05 L358.76,79.82 L358.45,79.60 L358.15,79.37 L357.84,79.15 L357.53,78.93 L357.22,78.71 L356.91,78.49 L356.60,78.27 L356.28,78.05 L355.97,77.83 L355.66,77.62 L355.35,77.40 L355.04,77.18 L354.72,76.97 L354.41,76.75 L354.09,76.54 L353.78,76.33 L353.47,76.12 L353.15,75.90 L352.84,75.69 L352.52,75.48 L352.20,75.27 L351.89,75.07 L351.57,74.86 L351.26,74.65 L350.94,74.44 L350.62,74.24 L350.31,74.03 L349.99,73.83 L349.67,73.63 L349.35,73.42 L349.03,73.22 L348.71,73.02 L348.39,72.82 L348.07,72.62 L347.75,72.42 L347.43,72.22 L347.11,72.03 L346.79,71.83 L346.46,71.63 L346.14,71.44 L345.82,71.25 L345.49,71.05 L345.17,70.86 L344.85,70.67 L344.52,70.48 L344.19,70.29 L343.87,70.10 L343.54,69.91 L343.21,69.73 L342.88,69.54 L342.56,69.36 L342.23,69.18 L341.90,68.99 L341.57,68.81 L341.23,68.63 L340.90,68.46 L340.57,68.28 L340.24,68.10 L339.90,67.93 L339.57,67.76 L339.23,67.58 L338.89,67.41 L338.56,67.25 L338.22,67.08 L337.88,66.91 L337.54,66.75 L337.20,66.59 L336.86,66.42 L336.51,66.26 L336.17,66.11 L335.83,65.95 L335.48,65.79 L335.14,65.64 L334.79,65.49 L334.44,65.34 L334.09,65.19 L333.74,65.04 L333.39,64.90 L333.04,64.76 L332.69,64.61 L332.33,64.48 L331.98,64.34 L331.62,64.20 L331.27,64.07 L330.91,63.94 L330.55,63.81 L330.19,63.68 L329.83,63.55 L329.47,63.43 L329.10,63.31 L328.74,63.19 L328.37,63.07 L328.00,62.96 L327.64,62.84 L327.27,62.73 L326.90,62.62 L326.53,62.52Z" fill="#28ee28" stroke="#00e000" stroke-width="0.9" stroke-linejoin="round"/>
<path d="M83.39,6.85 L84.31,7.21 L85.22,7.57 L86.14,7.92 L87.06,8.28 L87.98,8.63 L88.90,8.98 L89.82,9.33 L90.74,9.68 L91.66,10.03 L92.58,10.37 L93.50,10.72 L94.42,11.06 L95.34,11.40 L96.27,11.74 L97.19,12.08 L98.11,12.41 L99.04,12.75 L99.96,13.08 L100.88,13.42 L101.80,13.75 L102.73,14.09 L103.65,14.42 L104.57,14.75 L105.50,15.08 L106.42,15.40 L107.35,15.73 L108.28,16.05 L109.20,16.38 L110.13,16.69 L111.06,17.01 L111.99,17.32 L112.91,17.64 L113.84,17.95 L114.77,18.26 L115.70,18.56 L116.63,18.87 L117.57,19.18 L118.50,19.48 L119.43,19.78 L120.36,20.09 L121.29,20.39 L122.22,20.69 L123.16,20.99 L124.09,21.29 L125.02,21.59 L125.95,21.88 L126.89,22.18 L127.82,22.47 L128.76,22.76 L129.69,23.05 L130.62,23.34 L131.56,23.63 L132.50,23.92 L133.43,24.20 L134.37,24.49 L135.30,24.77 L136.24,25.06 L137.18,25.34 L138.12,25.62 L139.05,25.89 L139.99,26.17 L140.93,26.46 L141.87,26.73 L142.80,27.01 L143.74,27.29 L144.68,27.57 L145.62,27.84 L146.56,28.12 L147.50,28.39 L148.44,28.66 L149.38,28.93 L150.32,29.20 L151.26,29.47 L152.20,29.74 L153.14,30.00 L154.08,30.27 L155.03,30.53 L155.97,30.79 L156.91,31.06 L157.85,31.32 L158.80,31.58 L159.74,31.83 L160.69,32.09 L161.63,32.35 L162.57,32.60 L163.52,32.86 L164.46,33.11 L165.41,33.36 L166.36,33.62 L167.30,33.87 L168.25,34.12 L169.19,34.37 L170.14,34.61 L171.09,34.86 L172.04,35.11 L172.98,35.35 L173.93,35.59 L174.88,35.84 L175.83,36.07 L176.78,36.31 L177.73,36.55 L178.68,36.78 L179.63,37.02 L180.58,37.25 L181.53,37.49 L182.48,37.72 L183.44,37.95 L184.39,38.18 L185.34,38.41 L186.29,38.64 L187.24,38.87 L188.20,39.10 L189.15,39.32 L190.10,39.55 L191.06,39.77 L192.01,40.00 L192.97,40.22 L193.92,40.45 L194.87,40.67 L195.83,40.88 L196.79,41.10 L197.74,41.32 L198.70,41.53 L199.66,41.74 L200.61,41.96 L201.57,42.17 L202.53,42.38 L203.48,42.59 L204.44,42.80 L205.40,43.01 L206.36,43.22 L207.32,43.43 L208.28,43.64 L209.23,43.85 L210.19,44.06 L211.15,44.26 L212.11,44.47 L213.07,44.67 L214.03,44.88 L214.99,45.08 L215.95,45.29 L216.91,45.49 L217.87,45.70 L218.83,45.90 L219.79,46.11 L220.75,46.31 L221.71,46.52 L222.67,46.72 L223.63,46.92 L224.59,47.13 L225.55,47.33 L226.51,47.53 L227.47,47.73 L228.43,47.93 L229.39,48.13 L230.35,48.33 L231.31,48.52 L232.27,48.72 L233.23,48.92 L234.19,49.12 L235.15,49.32 L236.11,49.52 L237.06,49.72 L238.02,49.93 L238.98,50.13 L239.94,50.33 L240.89,50.53 L241.85,50.74 L242.81,50.94 L243.76,51.15 L244.72,51.36 L245.68,51.57 L246.63,51.77 L247.58,51.98 L248.54,52.20 L249.49,52.41 L250.44,52.62 L251.40,52.84 L252.35,53.05 L253.30,53.27 L254.25,53.49 L255.20,53.71 L256.15,53.93 L257.10,54.16 L258.05,54.38 L258.99,54.61 L259.94,54.84 L260.89,55.07 L261.83,55.30 L262.78,55.53 L263.72,55.77 L264.66,56.00 L265.61,56.24 L266.55,56.48 L267.49,56.72 L268.43,56.97 L269.37,57.21 L270.31,57.46 L271.25,57.71 L272.18,57.97 L273.12,58.22 L274.05,58.48 L274.99,58.74 L275.92,59.00 L276.85,59.27 L277.79,59.54 L278.72,59.81 L279.65,60.08 L280.57,60.36 L281.50,60.64 L282.43,60.92 L283.35,61.20 L284.28,61.49 L285.20,61.78 L286.12,62.07 L287.04,62.37 L287.96,62.67 L288.88,62.98 L289.79,63.28 L290.71,63.59 L291.62,63.91 L292.54,64.22 L293.45,64.54 L294.36,64.87 L295.27,65.19 L296.18,65.52 L297.08,65.86 L297.99,66.20 L298.89,66.54 L299.80,66.89 L300.70,67.23 L301.60,67.59 L302.50,67.95 L303.39,68.31 L304.29,68.67 L305.18,69.05 L306.07,69.42 L306.96,69.80 L307.85,70.19 L308.74,70.58 L309.62,70.97 L310.51,71.37 L311.39,71.77 L312.27,72.17 L313.15,72.59 L314.03,73.00 L314.90,73.42 L315.77,73.85 L316.64,74.28 L317.51,74.72 L318.38,75.16 L319.25,75.60 L320.11,76.05 L320.98,76.51 L321.84,76.97 L322.70,77.43 L323.55,77.90 L324.41,78.37 L325.26,78.84 L326.11,79.32 L326.96,79.81 L327.81,80.30 L328.66,80.79 L329.50,81.28 L330.34,81.78 L331.18,82.29 L332.02,82.80 L332.85,83.31 L333.68,83.82 L334.52,84.35 L335.34,84.87 L336.17,85.40 L336.99,85.94 L337.81,86.48 L338.62,87.02 L339.44,87.56 L340.25,88.11 L341.06,88.67 L341.87,89.22 L342.67,89.78 L343.47,90.34 L344.27,90.91 L345.07,91.48 L345.87,92.05 L346.66,92.63 L347.45,93.21 L348.23,93.79 L349.02,94.37 L349.80,94.96 L350.58,95.55 L351.35,96.15 L352.13,96.74 L352.91,97.33 L353.68,97.92 L354.45,98.52 L355.22,99.12 L355.98,99.73 L356.73,100.33 L357.48,100.95 L358.22,101.56 L358.96,102.19 L359.69,102.81 L360.42,103.45 L361.14,104.08 L361.85,104.73 L362.56,105.37 L363.25,106.03 L363.94,106.69 L364.62,107.36 L365.29,108.03 L365.95,108.72 L366.60,109.41 L367.24,110.11 L367.88,110.81 L368.50,111.52 L369.11,112.24 L369.71,112.97 L370.30,113.71 L370.88,114.45 L371.45,115.20 L372.01,115.96 L372.56,116.74 L373.09,117.52 L373.62,118.31 L374.13,119.11 L374.64,119.92 L375.14,120.73 L375.63,121.56 L376.11,122.39 L376.58,123.22 L377.05,124.07 L377.51,124.92 L377.97,125.77 L378.42,126.63 L378.87,127.50 L379.32,128.36 L379.76,129.24 L380.20,130.11 L380.64,130.99 L381.07,131.87 L381.51,132.75 L381.94,133.63 L382.38,134.51 L382.81,135.39 L383.25,136.28 L383.69,137.16 L384.13,138.04 L384.56,138.92 L385.01,139.80 L385.45,140.68 L385.90,141.55 L386.35,142.42 L386.81,143.29 L387.27,144.16 L387.74,145.02 L388.21,145.88 L388.69,146.73 L389.17,147.58 L389.66,148.43 L390.16,149.27 L390.66,150.10 L391.17,150.93 L391.69,151.76 L392.22,152.57 L392.76,153.39 L393.30,154.19 L393.86,154.99 L394.42,155.78 L394.99,156.57 L395.58,157.35 L396.17,158.12 L396.77,158.88 L397.38,159.64 L398.00,160.39 L398.62,161.13 L399.26,161.86 L399.90,162.59 L400.55,163.31 L401.21,164.03 L401.87,164.74 L402.54,165.44 L403.22,166.14 L403.90,166.84 L404.59,167.52 L405.28,168.21 L405.98,168.89 L406.68,169.56 L407.39,170.24 L408.10,170.90 L408.82,171.57 L409.54,172.23 L410.26,172.89 L410.99,173.55 L411.71,174.20 L412.44,174.86 L413.18,175.51 L413.91,176.16 L414.64,176.81 L415.38,177.45 L416.12,178.10 L416.86,178.74 L417.60,179.39 L418.34,180.03 L419.08,180.67 L419.81,181.32 L420.55,181.96 L421.28,182.61 L422.02,183.26 L422.75,183.91 L423.48,184.56 L424.21,185.21 L424.93,185.87 L425.65,186.52 L426.37,187.18 L427.08,187.85 L427.80,188.51 L428.51,189.18 L429.21,189.85 L429.91,190.52 L430.60,191.20 L431.29,191.89 L431.98,192.57 L432.65,193.27 L433.32,193.97 L433.99,194.67 L434.64,195.38 L435.29,196.10 L435.94,196.82 L436.58,197.55 L437.21,198.29 L437.83,199.03 L438.45,199.77 L439.06,200.53 L439.67,201.28 L440.27,202.05 L440.86,202.81 L441.45,203.59 L442.03,204.36 L442.61,205.15 L443.18,205.93 L443.74,206.72 L444.30,207.52 L444.86,208.32 L445.40,209.12 L445.95,209.93 L446.48,210.74 L447.01,211.56 L447.54,212.38 L448.06,213.20 L448.58,214.03 L449.09,214.86 L449.59,215.69 L450.09,216.52 L450.60,217.35 L451.11,218.18 L451.61,219.02 L452.10,219.86 L452.59,220.70 L453.08,221.54 L453.56,222.38 L454.04,223.23 L454.51,224.08 L454.97,224.93 L455.44,225.79 L455.89,226.64 L456.34,227.50 L456.78,228.36 L457.22,229.22 L457.65,230.08 L458.07,230.95 L458.49,231.82 L458.89,232.69 L459.29,233.57 L459.68,234.45 L460.06,235.33 L460.43,236.22 L460.79,237.11 L461.14,238.00 L461.48,238.90 L461.81,239.81 L462.12,240.71 L462.43,241.63 L462.72,242.55 L463.00,243.47 L463.25,244.40 L463.49,245.34 L463.72,246.28 L463.93,247.23 L464.13,248.18 L464.31,249.14 L464.48,250.10 L464.63,251.07 L464.76,252.05 L464.88,253.03 L464.98,254.02 L465.05,255.02 L465.10,256.02 L465.14,257.03 L465.15,258.05 L465.25,258.04 L465.24,257.03 L465.20,256.02 L465.15,255.01 L465.08,254.01 L465.00,253.02 L464.91,252.03 L464.81,251.05 L464.68,250.07 L464.54,249.10 L464.39,248.13 L464.21,247.17 L464.03,246.21 L463.83,245.26 L463.61,244.31 L463.39,243.37 L463.16,242.42 L462.92,241.48 L462.66,240.55 L462.40,239.61 L462.12,238.69 L461.83,237.76 L461.53,236.84 L461.22,235.92 L460.90,235.00 L460.57,234.09 L460.22,233.18 L459.87,232.28 L459.51,231.37 L459.14,230.47 L458.77,229.57 L458.38,228.68 L457.99,227.78 L457.59,226.89 L457.19,226.00 L456.78,225.11 L456.36,224.23 L455.94,223.34 L455.51,222.46 L455.08,221.58 L454.64,220.70 L454.20,219.82 L453.75,218.95 L453.30,218.07 L452.84,217.20 L452.37,216.33 L451.90,215.47 L451.41,214.61 L450.91,213.76 L450.41,212.91 L449.90,212.07 L449.38,211.22 L448.86,210.38 L448.33,209.55 L447.80,208.72 L447.25,207.89 L446.71,207.06 L446.16,206.24 L445.60,205.43 L445.03,204.62 L444.46,203.81 L443.88,203.00 L443.30,202.21 L442.70,201.41 L442.11,200.63 L441.50,199.84 L440.89,199.06 L440.27,198.29 L439.65,197.52 L439.01,196.76 L438.38,196.01 L437.73,195.26 L437.08,194.51 L436.42,193.77 L435.75,193.04 L435.08,192.31 L434.40,191.59 L433.72,190.88 L433.03,190.17 L432.33,189.47 L431.63,188.77 L430.93,188.07 L430.22,187.39 L429.51,186.70 L428.79,186.02 L428.07,185.35 L427.34,184.68 L426.61,184.02 L425.88,183.35 L425.15,182.69 L424.41,182.04 L423.68,181.39 L422.94,180.73 L422.20,180.08 L421.46,179.44 L420.72,178.79 L419.98,178.14 L419.24,177.50 L418.50,176.86 L417.76,176.21 L417.03,175.57 L416.29,174.93 L415.55,174.29 L414.82,173.65 L414.09,173.00 L413.36,172.36 L412.63,171.72 L411.91,171.07 L411.19,170.42 L410.48,169.77 L409.76,169.12 L409.06,168.46 L408.36,167.80 L407.66,167.14 L406.97,166.48 L406.28,165.81 L405.60,165.14 L404.92,164.46 L404.26,163.78 L403.60,163.10 L402.94,162.41 L402.29,161.72 L401.65,161.02 L401.02,160.31 L400.40,159.60 L399.78,158.88 L399.18,158.16 L398.58,157.43 L397.99,156.69 L397.41,155.95 L396.84,155.20 L396.29,154.44 L395.74,153.67 L395.20,152.89 L394.67,152.11 L394.15,151.32 L393.63,150.52 L393.13,149.72 L392.63,148.90 L392.13,148.09 L391.65,147.26 L391.16,146.44 L390.69,145.60 L390.22,144.76 L389.76,143.92 L389.30,143.07 L388.84,142.22 L388.39,141.36 L387.94,140.50 L387.50,139.63 L387.06,138.76 L386.62,137.89 L386.19,137.02 L385.75,136.14 L385.33,135.26 L384.90,134.38 L384.47,133.49 L384.05,132.61 L383.62,131.72 L383.19,130.83 L382.76,129.94 L382.33,129.06 L381.89,128.17 L381.45,127.29 L381.01,126.40 L380.56,125.52 L380.11,124.65 L379.65,123.77 L379.18,122.90 L378.71,122.04 L378.23,121.18 L377.74,120.32 L377.25,119.47 L376.74,118.63 L376.22,117.79 L375.70,116.96 L375.16,116.13 L374.61,115.32 L374.05,114.51 L373.47,113.71 L372.89,112.93 L372.29,112.15 L371.68,111.38 L371.06,110.62 L370.43,109.87 L369.80,109.12 L369.15,108.39 L368.49,107.66 L367.82,106.94 L367.14,106.23 L366.46,105.53 L365.77,104.84 L365.07,104.14 L364.37,103.46 L363.66,102.78 L362.94,102.11 L362.21,101.44 L361.48,100.78 L360.74,100.13 L360.00,99.48 L359.25,98.83 L358.50,98.19 L357.74,97.56 L356.98,96.93 L356.21,96.31 L355.44,95.69 L354.67,95.07 L353.90,94.46 L353.12,93.85 L352.33,93.25 L351.54,92.65 L350.74,92.06 L349.95,91.47 L349.15,90.89 L348.35,90.30 L347.54,89.73 L346.73,89.15 L345.92,88.58 L345.11,88.01 L344.30,87.44 L343.48,86.88 L342.66,86.32 L341.84,85.76 L341.01,85.21 L340.18,84.66 L339.35,84.12 L338.52,83.58 L337.69,83.04 L336.85,82.51 L336.01,81.98 L335.17,81.45 L334.33,80.92 L333.49,80.40 L332.64,79.88 L331.79,79.37 L330.94,78.86 L330.09,78.35 L329.23,77.85 L328.38,77.35 L327.52,76.85 L326.66,76.36 L325.79,75.88 L324.93,75.40 L324.06,74.92 L323.19,74.45 L322.32,73.98 L321.45,73.51 L320.57,73.05 L319.70,72.60 L318.82,72.15 L317.94,71.70 L317.06,71.26 L316.17,70.82 L315.29,70.39 L314.40,69.96 L313.51,69.53 L312.62,69.11 L311.73,68.70 L310.84,68.28 L309.94,67.88 L309.05,67.47 L308.15,67.08 L307.25,66.68 L306.35,66.29 L305.45,65.91 L304.55,65.52 L303.64,65.14 L302.74,64.77 L301.83,64.40 L300.92,64.03 L300.01,63.67 L299.10,63.31 L298.19,62.95 L297.28,62.60 L296.36,62.25 L295.44,61.91 L294.53,61.56 L293.61,61.23 L292.69,60.89 L291.77,60.56 L290.84,60.24 L289.92,59.91 L289.00,59.59 L288.07,59.27 L287.14,58.96 L286.22,58.65 L285.29,58.34 L284.36,58.04 L283.43,57.74 L282.49,57.44 L281.56,57.14 L280.63,56.85 L279.69,56.56 L278.76,56.27 L277.82,55.99 L276.88,55.71 L275.94,55.43 L275.00,55.15 L274.06,54.88 L273.12,54.61 L272.18,54.34 L271.24,54.07 L270.29,53.81 L269.35,53.55 L268.40,53.29 L267.46,53.03 L266.51,52.77 L265.57,52.52 L264.62,52.27 L263.67,52.02 L262.72,51.78 L261.77,51.53 L260.82,51.29 L259.87,51.05 L258.92,50.81 L257.96,50.58 L257.01,50.34 L256.06,50.11 L255.10,49.88 L254.15,49.65 L253.20,49.42 L252.24,49.19 L251.29,48.97 L250.33,48.74 L249.37,48.52 L248.42,48.30 L247.46,48.08 L246.51,47.86 L245.55,47.64 L244.59,47.42 L243.63,47.20 L242.68,46.99 L241.72,46.77 L240.76,46.56 L239.80,46.34 L238.84,46.13 L237.88,45.92 L236.92,45.71 L235.97,45.50 L235.01,45.29 L234.05,45.08 L233.09,44.87 L232.13,44.66 L231.17,44.45 L230.21,44.24 L229.25,44.03 L228.29,43.83 L227.34,43.62 L226.38,43.41 L225.42,43.21 L224.46,43.01 L223.50,42.81 L222.54,42.60 L221.58,42.40 L220.62,42.20 L219.66,41.99 L218.70,41.79 L217.75,41.58 L216.79,41.38 L215.83,41.17 L214.87,40.97 L213.92,40.76 L212.96,40.55 L212.01,40.34 L211.05,40.13 L210.09,39.92 L209.14,39.70 L208.18,39.49 L207.23,39.28 L206.28,39.07 L205.32,38.85 L204.37,38.64 L203.41,38.42 L202.46,38.20 L201.51,37.99 L200.55,37.77 L199.60,37.55 L198.65,37.33 L197.70,37.11 L196.74,36.89 L195.79,36.67 L194.84,36.45 L193.89,36.24 L192.94,36.02 L191.98,35.80 L191.03,35.58 L190.08,35.36 L189.13,35.14 L188.18,34.91 L187.23,34.69 L186.28,34.47 L185.33,34.24 L184.38,34.02 L183.43,33.79 L182.48,33.56 L181.53,33.34 L180.59,33.11 L179.64,32.88 L178.69,32.65 L177.74,32.42 L176.79,32.19 L175.85,31.95 L174.90,31.72 L173.95,31.49 L173.01,31.26 L172.06,31.03 L171.11,30.79 L170.17,30.56 L169.22,30.32 L168.27,30.09 L167.33,29.85 L166.38,29.61 L165.44,29.37 L164.49,29.13 L163.55,28.89 L162.61,28.65 L161.66,28.41 L160.72,28.16 L159.78,27.92 L158.83,27.67 L157.89,27.43 L156.95,27.18 L156.01,26.93 L155.07,26.68 L154.12,26.43 L153.18,26.18 L152.24,25.92 L151.30,25.67 L150.36,25.42 L149.42,25.16 L148.48,24.90 L147.54,24.65 L146.60,24.39 L145.66,24.13 L144.73,23.87 L143.79,23.60 L142.85,23.34 L141.91,23.07 L140.98,22.81 L140.04,22.54 L139.11,22.27 L138.17,21.99 L137.24,21.72 L136.30,21.44 L135.37,21.16 L134.43,20.88 L133.50,20.60 L132.57,20.32 L131.64,20.04 L130.71,19.76 L129.77,19.47 L128.84,19.19 L127.91,18.90 L126.98,18.61 L126.05,18.32 L125.12,18.03 L124.19,17.74 L123.26,17.44 L122.33,17.15 L121.41,16.85 L120.48,16.55 L119.55,16.25 L118.62,15.95 L117.70,15.64 L116.77,15.34 L115.85,15.03 L114.92,14.72 L114.00,14.41 L113.07,14.10 L112.15,13.79 L111.23,13.47 L110.30,13.16 L109.38,12.85 L108.45,12.53 L107.53,12.22 L106.61,11.90 L105.68,11.58 L104.76,11.27 L103.84,10.94 L102.92,10.62 L102.00,10.30 L101.08,9.97 L100.16,9.64 L99.24,9.31 L98.32,8.98 L97.40,8.64 L96.49,8.30 L95.57,7.97 L94.65,7.62 L93.74,7.28 L92.82,6.94 L91.90,6.59 L90.99,6.25 L90.08,5.90 L89.16,5.55 L88.25,5.20 L87.34,4.85 L86.42,4.49 L85.51,4.13 L84.60,3.78Z" fill="#ff6464" stroke="#ff3232" stroke-width="0.9" stroke-linejoin="round"/>
<path d="M76.17,27.09 L76.36,28.56 L76.58,30.03 L76.83,31.49 L77.11,32.95 L77.42,34.40 L77.75,35.84 L78.11,37.27 L78.50,38.70 L78.92,40.11 L79.36,41.52 L79.83,42.91 L80.32,44.30 L80.84,45.67 L81.38,47.03 L81.95,48.38 L82.55,49.71 L83.17,51.03 L83.81,52.34 L84.48,53.63 L85.17,54.90 L85.89,56.17 L86.63,57.41 L87.39,58.64 L88.17,59.85 L88.98,61.04 L89.81,62.21 L90.66,63.37 L91.54,64.50 L92.43,65.61 L93.35,66.71 L94.28,67.78 L95.24,68.83 L96.22,69.86 L97.22,70.87 L98.24,71.85 L99.28,72.81 L100.33,73.74 L101.41,74.65 L102.51,75.54 L103.62,76.39 L104.75,77.23 L105.90,78.03 L107.07,78.81 L108.26,79.56 L109.46,80.28 L110.68,80.98 L111.91,81.65 L113.16,82.29 L114.42,82.91 L115.70,83.51 L116.99,84.08 L118.29,84.62 L119.60,85.15 L120.93,85.65 L122.26,86.13 L123.61,86.58 L124.96,87.01 L126.33,87.42 L127.70,87.81 L129.08,88.18 L130.46,88.53 L131.85,88.86 L133.25,89.17 L134.65,89.46 L136.06,89.73 L137.47,89.99 L138.88,90.22 L140.30,90.44 L141.72,90.64 L143.14,90.82 L144.56,90.99 L145.99,91.14 L147.42,91.28 L148.84,91.40 L150.28,91.51 L151.71,91.61 L153.14,91.69 L154.58,91.76 L156.01,91.82 L157.45,91.87 L158.89,91.91 L160.33,91.94 L161.77,91.96 L163.21,91.98 L164.65,91.98 L166.10,91.98 L167.54,91.97 L168.98,91.95 L170.43,91.93 L171.87,91.90 L173.32,91.87 L174.77,91.84 L176.21,91.80 L177.66,91.76 L179.10,91.72 L180.55,91.68 L182.00,91.63 L183.44,91.59 L184.89,91.54 L186.33,91.49 L187.78,91.45 L189.22,91.40 L190.67,91.35 L192.11,91.31 L193.55,91.26 L195.00,91.21 L196.44,91.16 L197.88,91.11 L199.32,91.06 L200.77,91.01 L202.21,90.96 L203.65,90.91 L205.09,90.86 L206.53,90.81 L207.97,90.76 L209.41,90.71 L210.86,90.66 L212.30,90.61 L213.74,90.55 L215.18,90.50 L216.62,90.45 L218.06,90.40 L219.49,90.34 L220.93,90.29 L222.37,90.23 L223.81,90.18 L225.25,90.13 L226.69,90.07 L228.13,90.02 L229.56,89.96 L231.00,89.91 L232.44,89.85 L233.88,89.79 L235.31,89.74 L236.75,89.68 L238.19,89.62 L239.62,89.57 L241.06,89.51 L242.50,89.45 L243.93,89.40 L245.37,89.34 L246.80,89.28 L248.24,89.22 L249.67,89.17 L251.11,89.11 L252.55,89.05 L253.98,88.99 L255.41,88.93 L256.85,88.87 L258.28,88.81 L259.72,88.75 L261.15,88.69 L262.59,88.64 L264.02,88.58 L265.46,88.52 L266.89,88.46 L268.32,88.40 L269.76,88.34 L271.19,88.28 L272.62,88.22 L274.06,88.15 L275.49,88.09 L276.92,88.03 L278.36,87.97 L279.79,87.91 L281.22,87.85 L282.65,87.79 L284.09,87.73 L285.52,87.67 L286.95,87.61 L288.38,87.55 L289.82,87.48 L291.25,87.42 L292.68,87.36 L294.11,87.30 L295.54,87.24 L296.98,87.18 L298.41,87.12 L299.84,87.06 L301.27,86.99 L302.70,86.93 L304.13,86.87 L305.57,86.81 L307.00,86.75 L308.43,86.69 L309.86,86.63 L311.29,86.56 L312.72,86.50 L314.16,86.44 L315.59,86.38 L317.02,86.32 L318.45,86.26 L319.88,86.20 L321.31,86.13 L322.74,86.07 L324.18,86.01 L325.61,85.95 L327.04,85.89 L328.47,85.83 L329.90,85.77 L331.33,85.71 L332.76,85.65 L334.19,85.59 L335.63,85.53 L337.06,85.47 L338.49,85.41 L339.92,85.35 L341.35,85.29 L342.78,85.23 L344.21,85.17 L345.65,85.11 L347.08,85.05 L348.51,84.99 L349.94,84.93 L351.37,84.87 L352.80,84.81 L354.24,84.75 L355.67,84.69 L357.10,84.63 L358.53,84.58 L359.96,84.52 L361.40,84.46 L362.83,84.40 L364.26,84.34 L365.69,84.29 L367.13,84.23 L368.56,84.17 L369.99,84.12 L371.42,84.06 L372.86,84.00 L374.29,83.95 L375.72,83.89 L377.16,83.83 L378.59,83.78 L380.02,83.72 L381.46,83.67 L382.89,83.61 L384.32,83.56 L385.76,83.51 L387.19,83.45 L388.62,83.40 L390.06,83.34 L391.49,83.29 L392.93,83.24 L394.36,83.18 L395.80,83.13 L397.23,83.08 L398.67,83.03 L400.10,82.98 L401.54,82.93 L402.97,82.87 L404.41,82.82 L405.84,82.77 L407.28,82.72 L408.71,82.67 L410.15,82.63 L411.59,82.58 L413.02,82.53 L414.46,82.48 L415.90,82.43 L417.33,82.38 L418.77,82.34 L420.21,82.29 L421.65,82.24 L423.08,82.20 L424.52,82.15 L425.96,82.11 L427.40,82.06 L428.84,82.02 L430.28,81.97 L431.71,81.93 L433.15,81.88 L434.59,81.84 L436.03,81.80 L437.47,81.76 L438.91,81.71 L440.35,81.67 L441.79,81.63 L443.23,81.59 L444.68,81.55 L446.12,81.51 L447.56,81.47 L449.00,81.43 L450.44,81.40 L451.88,81.36 L453.33,81.32 L454.77,81.28 L456.21,81.25 L457.65,81.21 L459.10,81.18 L460.54,81.14 L461.99,81.11 L463.43,81.07 L464.87,81.04 L466.32,81.01 L467.76,80.97 L469.21,80.94 L470.66,80.91 L472.10,80.88" fill="none" stroke="#111" stroke-width="1.1" stroke-dasharray="8.8 7.13" stroke-dashoffset="12.53"/>
<path d="M77.71,7.56 L77.92,9.03 L78.16,10.50 L78.41,11.96 L78.69,13.43 L78.99,14.89 L79.30,16.35 L79.64,17.80 L80.00,19.25 L80.38,20.70 L80.78,22.14 L81.20,23.57 L81.64,25.00 L82.10,26.42 L82.59,27.83 L83.09,29.23 L83.61,30.62 L84.16,32.01 L84.72,33.38 L85.30,34.74 L85.91,36.10 L86.53,37.44 L87.18,38.76 L87.84,40.07 L88.53,41.37 L89.24,42.66 L89.97,43.93 L90.71,45.18 L91.48,46.42 L92.27,47.64 L93.08,48.84 L93.90,50.03 L94.75,51.19 L95.62,52.34 L96.51,53.46 L97.42,54.57 L98.35,55.66 L99.30,56.72 L100.27,57.76 L101.26,58.78 L102.27,59.77 L103.30,60.75 L104.35,61.69 L105.42,62.62 L106.51,63.52 L107.61,64.39 L108.74,65.25 L109.88,66.08 L111.04,66.89 L112.21,67.68 L113.40,68.45 L114.61,69.20 L115.83,69.92 L117.06,70.63 L118.31,71.32 L119.57,71.99 L120.85,72.64 L122.14,73.28 L123.43,73.89 L124.75,74.49 L126.07,75.07 L127.40,75.63 L128.74,76.18 L130.09,76.71 L131.45,77.23 L132.82,77.73 L134.20,78.22 L135.58,78.69 L136.97,79.15 L138.37,79.59 L139.77,80.02 L141.18,80.44 L142.59,80.84 L144.01,81.24 L145.43,81.62 L146.86,81.99 L148.29,82.35 L149.72,82.70 L151.15,83.04 L152.59,83.37 L154.02,83.69 L155.46,84.00 L156.90,84.30 L158.33,84.60 L159.77,84.88 L161.21,85.16 L162.65,85.43 L164.09,85.69 L165.53,85.94 L166.97,86.18 L168.41,86.42 L169.85,86.65 L171.29,86.87 L172.74,87.08 L174.18,87.29 L175.62,87.49 L177.07,87.68 L178.51,87.87 L179.96,88.05 L181.40,88.22 L182.85,88.39 L184.29,88.55 L185.74,88.70 L187.18,88.85 L188.63,88.99 L190.08,89.13 L191.53,89.26 L192.97,89.38 L194.42,89.50 L195.87,89.61 L197.32,89.72 L198.77,89.83 L200.22,89.93 L201.67,90.02 L203.12,90.11 L204.57,90.20 L206.02,90.28 L207.47,90.35 L208.92,90.43 L210.37,90.50 L211.82,90.56 L213.27,90.62 L214.73,90.68 L216.18,90.74 L217.63,90.79 L219.08,90.84 L220.54,90.88 L221.99,90.93 L223.44,90.97 L224.89,91.00 L226.35,91.04 L227.80,91.07 L229.25,91.10 L230.71,91.13 L232.16,91.16 L233.62,91.18 L235.07,91.20 L236.52,91.23 L237.98,91.25 L239.43,91.27 L240.88,91.28 L242.34,91.30 L243.79,91.32 L245.25,91.33 L246.70,91.35 L248.15,91.36 L249.61,91.38 L251.06,91.39 L252.52,91.41 L253.97,91.42 L255.42,91.43 L256.88,91.45 L258.33,91.46 L259.79,91.48 L261.24,91.49 L262.69,91.50 L264.15,91.52 L265.60,91.53 L267.05,91.54 L268.51,91.55 L269.96,91.57 L271.41,91.58 L272.87,91.59 L274.32,91.60 L275.78,91.61 L277.23,91.63 L278.68,91.64 L280.14,91.65 L281.59,91.66 L283.04,91.67 L284.50,91.68 L285.95,91.69 L287.40,91.70 L288.86,91.71 L290.31,91.72 L291.76,91.73 L293.22,91.74 L294.67,91.75 L296.12,91.76 L297.58,91.77 L299.03,91.78 L300.48,91.78 L301.94,91.79 L303.39,91.80 L304.84,91.81 L306.30,91.82 L307.75,91.82 L309.20,91.83 L310.66,91.84 L312.11,91.84 L313.56,91.85 L315.01,91.85 L316.47,91.86 L317.92,91.86 L319.37,91.87 L320.83,91.87 L322.28,91.88 L323.73,91.88 L325.19,91.88 L326.64,91.89 L328.09,91.89 L329.55,91.89 L331.00,91.90 L332.45,91.90 L333.91,91.90 L335.36,91.90 L336.81,91.90 L338.26,91.90 L339.72,91.90 L341.17,91.90 L342.62,91.90 L344.08,91.90 L345.53,91.90 L346.98,91.90 L348.44,91.90 L349.89,91.90 L351.34,91.89 L352.80,91.89 L354.25,91.89 L355.70,91.88 L357.15,91.88 L358.61,91.87 L360.06,91.87 L361.51,91.86 L362.97,91.86 L364.42,91.85 L365.87,91.85 L367.33,91.84 L368.78,91.83 L370.23,91.83 L371.69,91.82 L373.14,91.81 L374.59,91.80 L376.05,91.79 L377.50,91.78 L378.95,91.77 L380.41,91.76 L381.86,91.75 L383.31,91.74 L384.77,91.73 L386.22,91.71 L387.67,91.70 L389.13,91.69 L390.58,91.67 L392.03,91.66 L393.49,91.64 L394.94,91.63 L396.39,91.61 L397.85,91.60 L399.30,91.58 L400.75,91.56 L402.21,91.54 L403.66,91.53 L405.11,91.51 L406.57,91.49 L408.02,91.47 L409.47,91.45 L410.93,91.43 L412.38,91.41 L413.84,91.38 L415.29,91.36 L416.74,91.34 L418.20,91.32 L419.65,91.29 L421.10,91.27 L422.56,91.24 L424.01,91.22 L425.47,91.19 L426.92,91.16 L428.37,91.14 L429.83,91.11 L431.28,91.08 L432.74,91.05 L434.19,91.02 L435.64,90.99 L437.10,90.96 L438.55,90.93 L440.01,90.90 L441.46,90.86 L442.92,90.83 L444.37,90.80 L445.82,90.76 L447.28,90.73 L448.73,90.69 L450.19,90.65 L451.64,90.62 L453.10,90.58 L454.55,90.54 L456.00,90.50 L457.46,90.46 L458.91,90.42 L460.37,90.38 L461.82,90.34 L463.28,90.30 L464.73,90.26 L466.19,90.21 L467.64,90.17 L469.10,90.12 L470.55,90.08 L472.01,90.03" fill="none" stroke="#a8794a" stroke-width="1.25" stroke-dasharray="8.8 7.13" stroke-dashoffset="15.09"/>
</g>
<rect x="76.5" y="10.5" width="395.0" height="244.0" fill="none" stroke="#626262" stroke-width="1"/>
<path d="M76.50,254.5 v-3.0 M76.50,10.5 v3.0 M98.44,254.5 v-3.0 M98.44,10.5 v3.0 M120.39,254.5 v-5.0 M120.39,10.5 v5.0 M142.33,254.5 v-3.0 M142.33,10.5 v3.0 M164.28,254.5 v-3.0 M164.28,10.5 v3.0 M186.22,254.5 v-3.0 M186.22,10.5 v3.0 M208.17,254.5 v-5.0 M208.17,10.5 v5.0 M230.11,254.5 v-3.0 M230.11,10.5 v3.0 M252.06,254.5 v-3.0 M252.06,10.5 v3.0 M274.00,254.5 v-3.0 M274.00,10.5 v3.0 M295.94,254.5 v-5.0 M295.94,10.5 v5.0 M317.89,254.5 v-3.0 M317.89,10.5 v3.0 M339.83,254.5 v-3.0 M339.83,10.5 v3.0 M361.78,254.5 v-3.0 M361.78,10.5 v3.0 M383.72,254.5 v-5.0 M383.72,10.5 v5.0 M405.67,254.5 v-3.0 M405.67,10.5 v3.0 M427.61,254.5 v-3.0 M427.61,10.5 v3.0 M449.56,254.5 v-3.0 M449.56,10.5 v3.0 M471.50,254.5 v-5.0 M471.50,10.5 v5.0 M76.5,254.50 h6 M471.5,254.50 h-6 M76.5,244.01 h2.8 M471.5,244.01 h-2.8 M76.5,237.87 h2.8 M471.5,237.87 h-2.8 M76.5,233.51 h2.8 M471.5,233.51 h-2.8 M76.5,230.14 h2.8 M471.5,230.14 h-2.8 M76.5,227.38 h2.8 M471.5,227.38 h-2.8 M76.5,225.04 h2.8 M471.5,225.04 h-2.8 M76.5,223.02 h2.8 M471.5,223.02 h-2.8 M76.5,221.24 h2.8 M471.5,221.24 h-2.8 M76.5,219.64 h6 M471.5,219.64 h-6 M76.5,209.15 h2.8 M471.5,209.15 h-2.8 M76.5,203.01 h2.8 M471.5,203.01 h-2.8 M76.5,198.66 h2.8 M471.5,198.66 h-2.8 M76.5,195.28 h2.8 M471.5,195.28 h-2.8 M76.5,192.52 h2.8 M471.5,192.52 h-2.8 M76.5,190.19 h2.8 M471.5,190.19 h-2.8 M76.5,188.16 h2.8 M471.5,188.16 h-2.8 M76.5,186.38 h2.8 M471.5,186.38 h-2.8 M76.5,184.79 h6 M471.5,184.79 h-6 M76.5,174.29 h2.8 M471.5,174.29 h-2.8 M76.5,168.15 h2.8 M471.5,168.15 h-2.8 M76.5,163.80 h2.8 M471.5,163.80 h-2.8 M76.5,160.42 h2.8 M471.5,160.42 h-2.8 M76.5,157.66 h2.8 M471.5,157.66 h-2.8 M76.5,155.33 h2.8 M471.5,155.33 h-2.8 M76.5,153.31 h2.8 M471.5,153.31 h-2.8 M76.5,151.52 h2.8 M471.5,151.52 h-2.8 M76.5,149.93 h6 M471.5,149.93 h-6 M76.5,139.44 h2.8 M471.5,139.44 h-2.8 M76.5,133.30 h2.8 M471.5,133.30 h-2.8 M76.5,128.94 h2.8 M471.5,128.94 h-2.8 M76.5,125.56 h2.8 M471.5,125.56 h-2.8 M76.5,122.80 h2.8 M471.5,122.80 h-2.8 M76.5,120.47 h2.8 M471.5,120.47 h-2.8 M76.5,118.45 h2.8 M471.5,118.45 h-2.8 M76.5,116.67 h2.8 M471.5,116.67 h-2.8 M76.5,115.07 h6 M471.5,115.07 h-6 M76.5,104.58 h2.8 M471.5,104.58 h-2.8 M76.5,98.44 h2.8 M471.5,98.44 h-2.8 M76.5,94.09 h2.8 M471.5,94.09 h-2.8 M76.5,90.71 h2.8 M471.5,90.71 h-2.8 M76.5,87.95 h2.8 M471.5,87.95 h-2.8 M76.5,85.61 h2.8 M471.5,85.61 h-2.8 M76.5,83.59 h2.8 M471.5,83.59 h-2.8 M76.5,81.81 h2.8 M471.5,81.81 h-2.8 M76.5,80.21 h6 M471.5,80.21 h-6 M76.5,69.72 h2.8 M471.5,69.72 h-2.8 M76.5,63.58 h2.8 M471.5,63.58 h-2.8 M76.5,59.23 h2.8 M471.5,59.23 h-2.8 M76.5,55.85 h2.8 M471.5,55.85 h-2.8 M76.5,53.09 h2.8 M471.5,53.09 h-2.8 M76.5,50.76 h2.8 M471.5,50.76 h-2.8 M76.5,48.74 h2.8 M471.5,48.74 h-2.8 M76.5,46.95 h2.8 M471.5,46.95 h-2.8 M76.5,45.36 h6 M471.5,45.36 h-6 M76.5,34.86 h2.8 M471.5,34.86 h-2.8 M76.5,28.73 h2.8 M471.5,28.73 h-2.8 M76.5,24.37 h2.8 M471.5,24.37 h-2.8 M76.5,20.99 h2.8 M471.5,20.99 h-2.8 M76.5,18.23 h2.8 M471.5,18.23 h-2.8 M76.5,15.90 h2.8 M471.5,15.90 h-2.8 M76.5,13.88 h2.8 M471.5,13.88 h-2.8 M76.5,12.09 h2.8 M471.5,12.09 h-2.8 M76.5,10.50 h6 M471.5,10.50 h-6" fill="none" stroke="#626262" stroke-width="0.9"/>
<g font-family="'Liberation Serif', serif" fill="#000" opacity="0.999">
<text x="120.39" y="275.5" font-size="18" text-anchor="middle" textLength="18.54" lengthAdjust="spacingAndGlyphs">20</text>
<text x="208.17" y="275.5" font-size="18" text-anchor="middle" textLength="18.54" lengthAdjust="spacingAndGlyphs">40</text>
<text x="295.94" y="275.5" font-size="18" text-anchor="middle" textLength="18.54" lengthAdjust="spacingAndGlyphs">60</text>
<text x="383.72" y="275.5" font-size="18" text-anchor="middle" textLength="18.54" lengthAdjust="spacingAndGlyphs">80</text>
<text x="471.50" y="275.5" font-size="18" text-anchor="middle" textLength="24.84" lengthAdjust="spacingAndGlyphs">100</text>
<text x="31.3" y="53.26" font-size="18" textLength="14.8" lengthAdjust="spacingAndGlyphs">10</text>
<text x="47.6" y="48.06" font-size="15.5">−</text>
<text x="55.3" y="46.26" font-size="15.5" textLength="14.9" lengthAdjust="spacingAndGlyphs">42</text>
<text x="31.3" y="122.97" font-size="18" textLength="14.8" lengthAdjust="spacingAndGlyphs">10</text>
<text x="47.6" y="117.77" font-size="15.5">−</text>
<text x="55.3" y="115.97" font-size="15.5" textLength="14.9" lengthAdjust="spacingAndGlyphs">44</text>
<text x="31.3" y="192.69" font-size="18" textLength="14.8" lengthAdjust="spacingAndGlyphs">10</text>
<text x="47.6" y="187.49" font-size="15.5">−</text>
<text x="55.3" y="185.69" font-size="15.5" textLength="14.9" lengthAdjust="spacingAndGlyphs">46</text>
<text x="31.3" y="262.40" font-size="18" textLength="14.8" lengthAdjust="spacingAndGlyphs">10</text>
<text x="47.6" y="257.20" font-size="15.5">−</text>
<text x="55.3" y="255.40" font-size="15.5" textLength="14.9" lengthAdjust="spacingAndGlyphs">48</text>
<text x="228.5" y="302.5" font-size="18.5" font-style="italic">m</text>
<text x="241.6" y="308.6" font-size="15" font-style="italic">D</text>
<text x="265.2" y="302.5" font-size="19" textLength="53.2" lengthAdjust="spacingAndGlyphs">(GeV)</text>
<g transform="translate(18.8,168.3) rotate(-90)">
<text x="0.0" y="-0.3" font-size="17" font-style="italic" textLength="11.8" lengthAdjust="spacingAndGlyphs">σ</text>
<text x="12.6" y="6.4" font-size="14.5">el</text>
<text x="30.1" y="0.3" font-size="18.5">(cm</text>
<text x="57.9" y="-6.7" font-size="14">2</text>
<text x="65.0" y="0.3" font-size="18.5">)</text>
</g>
</g>
<g font-family="'Liberation Sans', sans-serif" font-size="14" opacity="0.999">
<text x="229.2" y="41.5" fill="#701820" font-size="16.5" textLength="51.5" lengthAdjust="spacingAndGlyphs">200 GeV</text>
<text x="330.5" y="62.5" fill="#701820" font-size="16.5" textLength="52.4" lengthAdjust="spacingAndGlyphs">350 GeV</text>
<text x="235" y="154.6" fill="#701820" font-size="16.5" textLength="51.7" lengthAdjust="spacingAndGlyphs">120 GeV</text>
<text x="408.7" y="78.1" fill="#000" font-size="14.5" textLength="55.4" lengthAdjust="spacingAndGlyphs">XENON10</text>
<text x="418.0" y="102" fill="#6a5a1e" font-size="14.3" textLength="46.0" lengthAdjust="spacingAndGlyphs">CDMS II</text>
</g>
</svg>
</body></html>
